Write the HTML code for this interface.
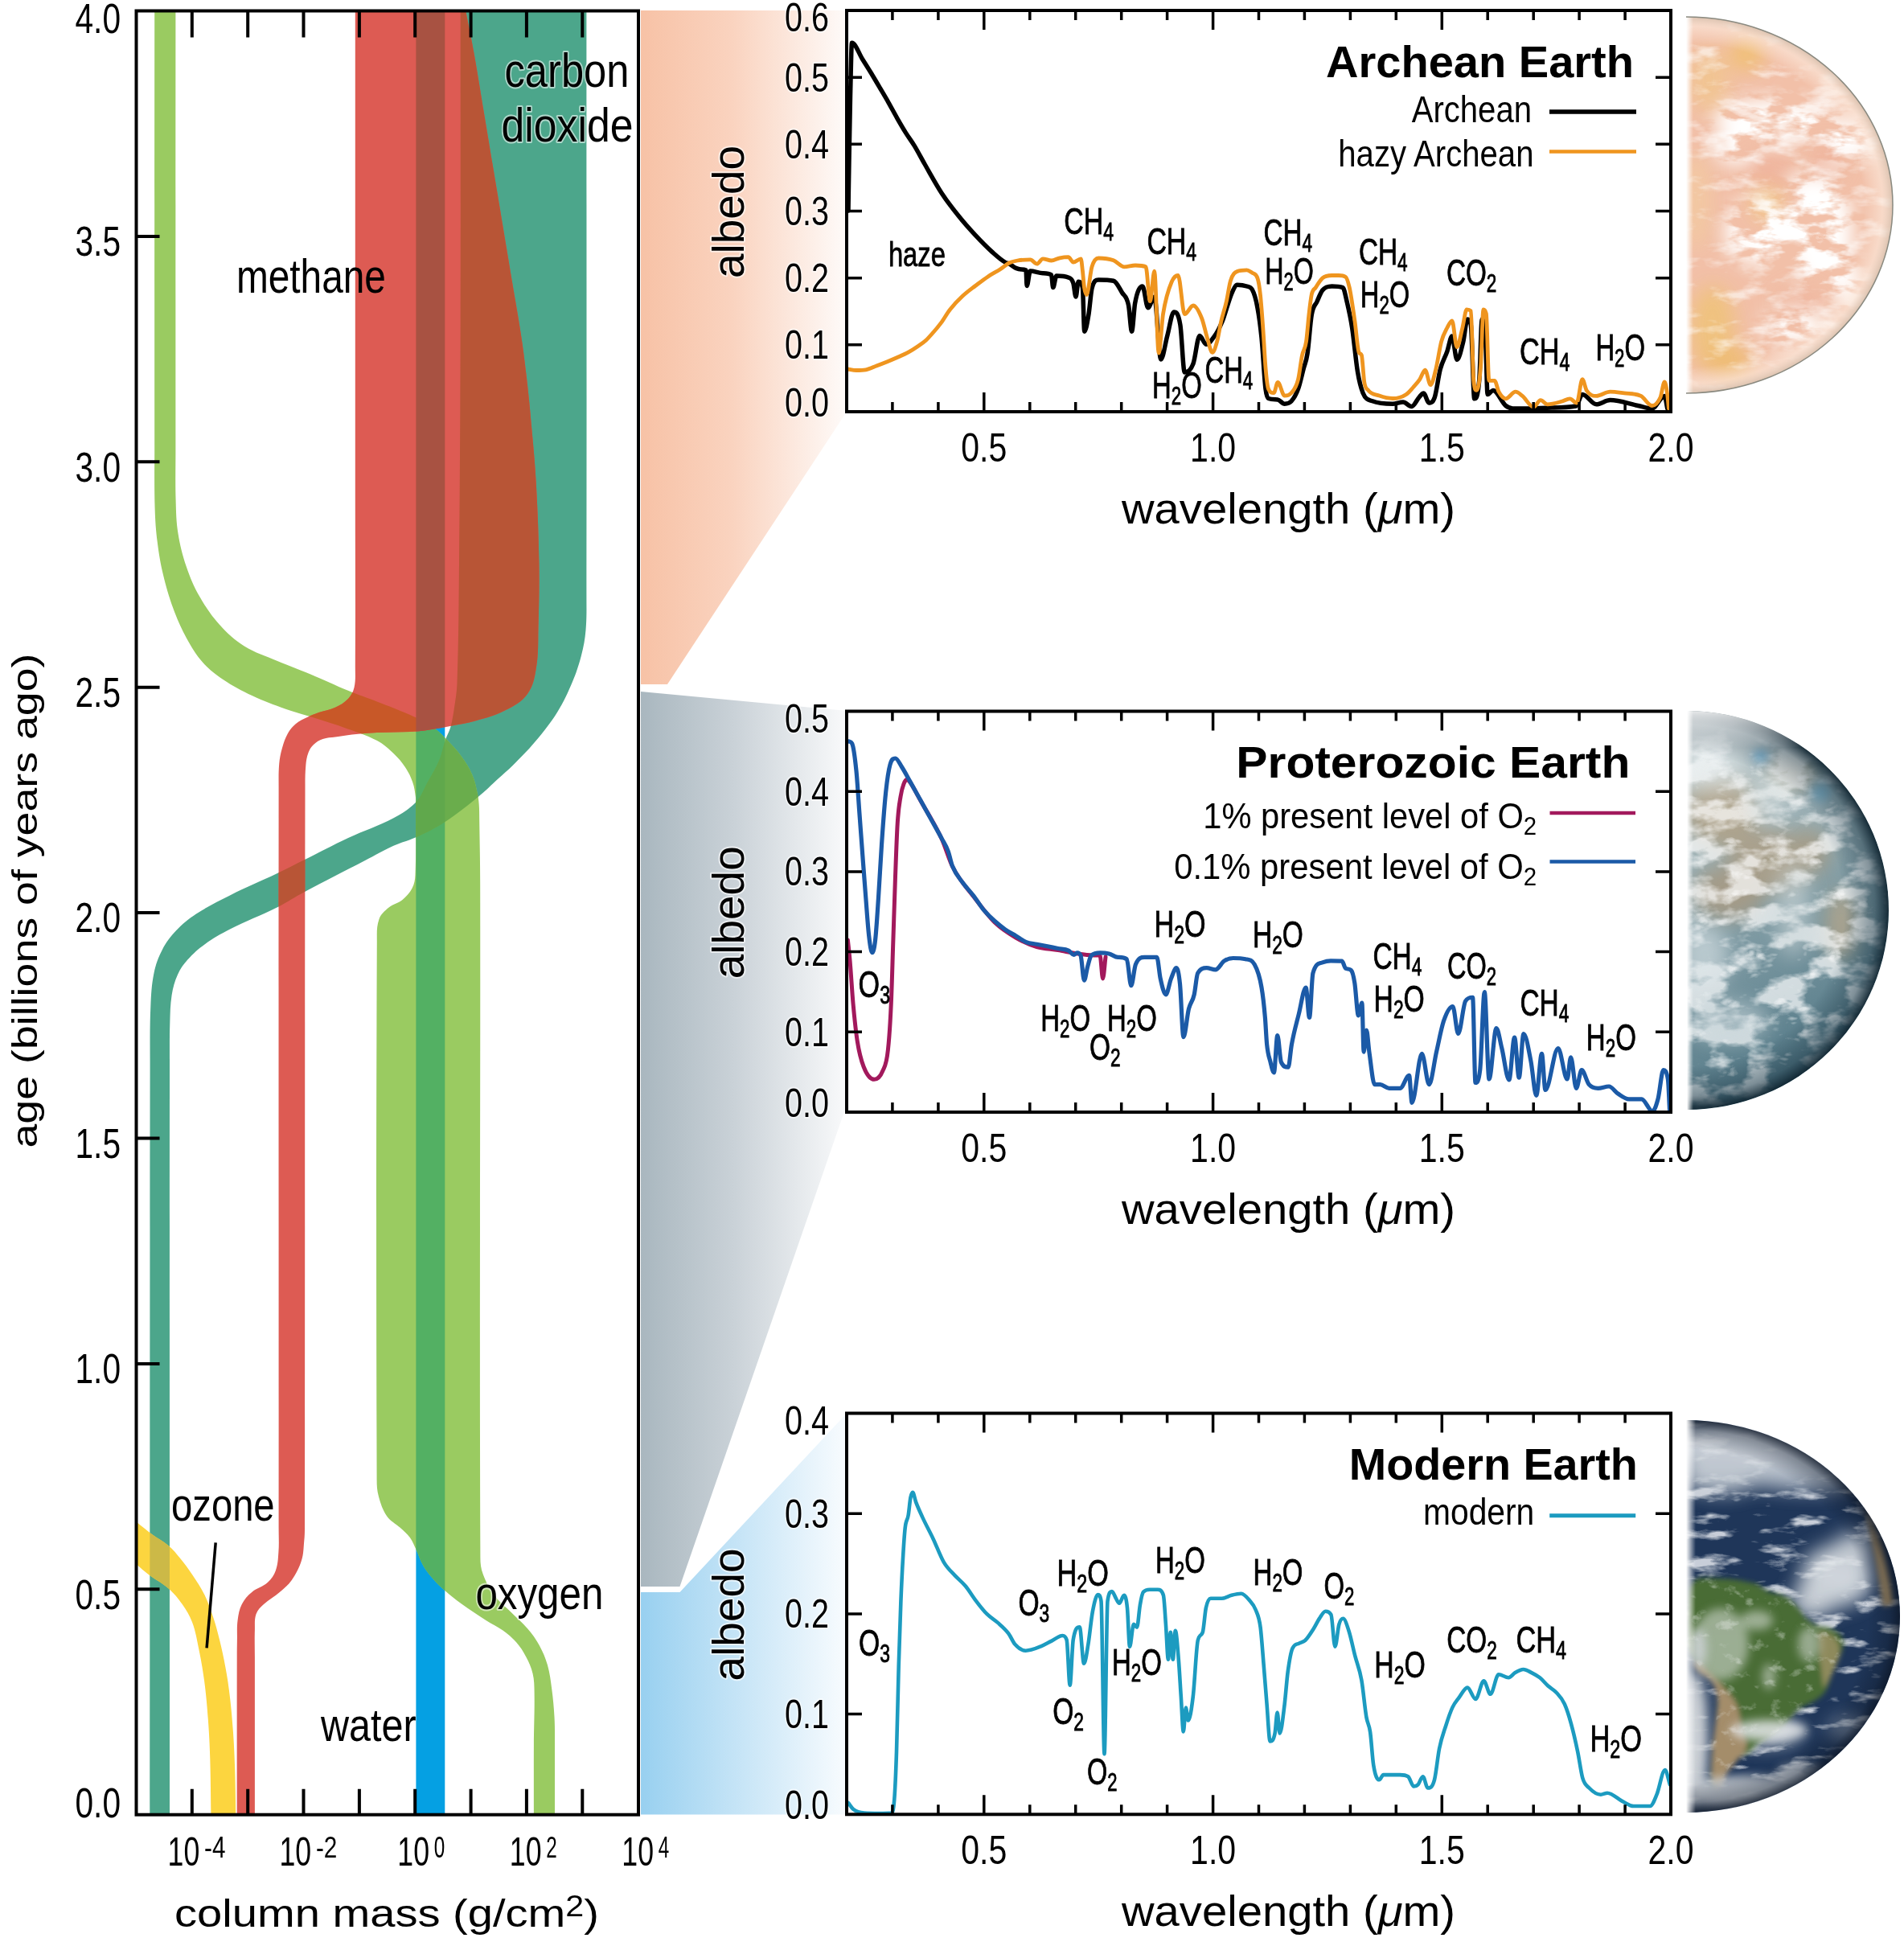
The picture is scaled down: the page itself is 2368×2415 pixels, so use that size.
<!DOCTYPE html><html><head><meta charset='utf-8'><style>html,body{margin:0;padding:0;background:#fff;}svg{display:block;will-change:transform}</style></head><body>
<svg xmlns='http://www.w3.org/2000/svg' width='2368' height='2415' viewBox='0 0 2368 2415'>
<defs>
<linearGradient id='gPeach' x1='797' y1='0' x2='1050' y2='0' gradientUnits='userSpaceOnUse'><stop offset='0' stop-color='#f7c2a6'/><stop offset='0.45' stop-color='#fad3bf'/><stop offset='1' stop-color='#fefaf8'/></linearGradient>
<linearGradient id='gGray' x1='797' y1='0' x2='1050' y2='0' gradientUnits='userSpaceOnUse'><stop offset='0' stop-color='#a9b7bf'/><stop offset='0.45' stop-color='#c9d1d7'/><stop offset='1' stop-color='#f8f9fa'/></linearGradient>
<linearGradient id='gBlue' x1='797' y1='0' x2='1050' y2='0' gradientUnits='userSpaceOnUse'><stop offset='0' stop-color='#98d0f0'/><stop offset='0.45' stop-color='#c3e3f6'/><stop offset='1' stop-color='#f7fbfe'/></linearGradient>
<filter id='blur6' x='-20%' y='-20%' width='140%' height='140%'><feGaussianBlur stdDeviation='6'/></filter>
<filter id='blur12' x='-20%' y='-20%' width='140%' height='140%'><feGaussianBlur stdDeviation='12'/></filter>
<filter id='blur3' x='-20%' y='-20%' width='140%' height='140%'><feGaussianBlur stdDeviation='3'/></filter>
</defs>
<rect x='0' y='0' width='2368' height='2415' fill='#fff'/>
<path d='M797,13 L1053,13 L1053,512 L830,851 L797,851 Z' fill='url(#gPeach)'/>
<path d='M797,860 L1054,884 L1054,1371 L845.5,1973 L797,1973 Z' fill='url(#gGray)'/>
<path d='M797,1980 L845.5,1980 L1053,1757.5 L1053,2256.5 L797,2256.5 Z' fill='url(#gBlue)'/>
<clipPath id='cW'><path d='M517.4,13.5 L553.3,13.5 L553.3,2256.7 L517.4,2256.7 Z'/></clipPath>
<clipPath id='cT'><path d='M572.7,7.5 C629.1,7.5 673,7.5 729.4,7.5 L729.4,7.5 C729.4,271.2 729.7,476.3 729.4,740 C729.4,755.6 729.8,767.8 728.5,783.4 C727.5,794.9 725.9,803.8 723,815 C719.8,827.2 716.7,836.7 711.8,848.3 C706,862.1 701.1,872.7 693.2,885.4 C684.4,899.6 676.1,909.7 665.4,922.5 C656,933.7 647.9,941.7 637.6,952 C631.6,958.1 626.3,962.2 620,968 C610.9,976.3 604.3,983.2 594.7,991 C580.3,1002.7 569.1,1011.9 553.5,1022 C541.3,1029.9 531,1034.9 517.8,1041 C508.1,1045.5 499.7,1047.1 490,1051.5 C476.8,1057.5 467,1063.3 454.1,1070 C426.9,1084.1 405.6,1094.8 378.5,1109.2 C366.2,1115.7 357.3,1122 344.9,1128.2 C324,1138.7 306.8,1144.9 286,1155.5 C274.2,1161.5 265.2,1166.7 254.5,1174.4 C246.2,1180.3 240.3,1185.7 233.5,1193.3 C228.1,1199.3 224.3,1204.6 221,1212 C217.1,1220.7 215.1,1228 213.6,1237.4 C211.6,1250.1 211.7,1260.2 211.3,1273 C210.8,1289.9 211,1303.1 211,1320 C210.9,1659.4 211,1923.3 211,2262.7 L211,2262.7 C202.1,2262.7 195.2,2262.7 186.3,2262.7 L186.3,2262.7 C186.4,1923.3 186.3,1659.4 186.6,1320 C186.6,1295.5 186.2,1276.5 187.3,1252 C188,1236.8 188.4,1224.9 191.5,1210 C193.8,1199 196.8,1190.6 202,1180.7 C206.8,1171.6 211.7,1165 218.8,1157.6 C226.9,1149 234.1,1143.1 244,1136.6 C258.4,1127.1 270.6,1121.1 286,1113.4 C306.9,1102.9 323.8,1096.2 344.9,1086.1 C357.1,1080.3 366.4,1075.3 378.5,1069.3 C398.2,1059.5 413.2,1051.3 433.1,1042 C453.4,1032.5 470.2,1027.5 490,1017 C500.9,1011.2 509.3,1005.9 517.8,997 C524.7,989.8 526.9,981.7 531.7,973 C537.2,963 542.1,955.5 546.5,945 C550.1,936.3 551,928.9 554,920 C556,914.1 558.8,910 560.4,904 C562.7,895.5 563.7,888.7 565,880 C566.6,869.2 568.1,860.9 568.5,850 C570.3,796 570.5,754 571,700 C572,592 572.4,508 572.7,400 C573,258.7 572.7,148.8 572.7,7.5 Z'/></clipPath>
<clipPath id='cG'><path d='M192.2,7.5 C201.6,7.5 209,7.5 218.4,7.5 L218.4,7.5 C218.4,206.4 218.3,361.1 218.4,560 C218.4,582.3 217.9,599.7 218.6,622 C219,637 219.1,648.7 221.5,663.5 C223.9,678.6 226.9,690.2 231.8,704.7 C236.5,718.5 241,729.1 248.2,741.8 C255.9,755.2 262.7,765.3 273,776.8 C282.8,787.7 291.4,795.7 303.8,803.5 C317.6,812.1 330,815.6 345,822 C359.7,828.2 371.5,832.3 386.2,838.5 C403.3,845.7 416.3,852 433.5,859.1 C446.5,864.5 456.9,867.9 470,873 C484.4,878.6 495.8,882.7 510,889 C520,893.5 527.9,897 537,903 C543.8,907.5 548.3,912.2 554,918 C561.4,925.5 567.2,931.5 573.4,940 C579.2,947.9 583.4,954.4 587.3,963.4 C590.8,971.3 591.9,978.1 593.8,986.6 C594.9,991.5 595.3,995.5 595.7,1000.5 C596.2,1007.5 596.1,1013 596.2,1020 C596.6,1048.8 597.2,1071.2 597.2,1100 C597.6,1401.3 596.2,1635.7 597.4,1937 C597.4,1944.5 598.1,1950.5 600.7,1957.5 C604.5,1967.8 608.6,1975.5 615.1,1984.3 C621.3,1992.8 628.3,1997.6 635.7,2005 C643.1,2012.4 649.5,2017.5 656.3,2025.5 C662.2,2032.4 666.4,2038.1 670.7,2046 C675.3,2054.5 678.3,2061.5 681,2070.8 C683.9,2081.1 684.8,2089.4 686.2,2100 C687.9,2112.5 688.8,2122.4 689.5,2135 C690.2,2147.6 690,2157.4 690,2170 C690.1,2203.4 690,2229.3 690,2262.7 L690,2262.7 C680.6,2262.7 673.3,2262.7 663.9,2262.7 L663.9,2262.7 C663.9,2229.3 663.8,2203.4 663.9,2170 C664,2146.6 665,2128.4 664.6,2105 C664.5,2096.3 664.5,2089.4 662.5,2081 C660.7,2073.3 658,2067.5 654.3,2060.5 C650.6,2053.4 647.2,2048 641.9,2042 C636.7,2036.1 631.8,2032.2 625.4,2027.6 C618.4,2022.5 612.1,2019.9 604.8,2015.2 C593.6,2008 584.8,2002.4 574,1994.6 C566.3,1989 560.5,1984.3 553.3,1978 C547.8,1973.2 543.7,1969.2 538.9,1963.7 C534,1958.1 530.2,1953.6 526.5,1947.2 C522.4,1940.2 520.8,1933.9 517.3,1926.6 C514.8,1921.3 513.4,1916.9 510,1912.2 C506.3,1907.1 502.3,1904.1 497.7,1899.8 C491.9,1894.4 485.7,1891.9 481.2,1885.4 C475.8,1877.5 473.5,1870 470.9,1860.7 C468.9,1853.5 468.6,1847.5 468.6,1840 C467.9,1598.8 467.8,1411.2 468.8,1170 C468.8,1160.2 468.2,1152.2 471.5,1143 C473.8,1136.6 478.4,1132.9 483.6,1128.6 C489,1124.1 495.1,1123.5 500.5,1119 C505.7,1114.6 509.5,1110.5 512.6,1104.4 C515.4,1099 516.2,1094.1 516.5,1088 C517.8,1056.3 516.9,1031.7 517,1000 C517,996.8 517.3,994.2 516.9,991 C516,984.3 515.4,979 513.2,972.7 C510.7,965.6 508,960.3 503.9,954 C499.6,947.5 495.6,942.8 490,937.5 C483,930.9 477.5,925.5 469,921 C454.6,913.4 442.3,909.9 427,904.4 C411,898.7 398.2,895.1 382,890 C372.4,887 364.8,885.2 355.3,881.8 C340.3,876.3 328.5,872.2 314,865.3 C300.2,858.8 289.7,853.2 277,844.7 C267.4,838.3 260,832.7 252.4,824 C243.6,814 238.2,804.9 231.8,793.2 C224.8,780.4 220.3,769.9 215.3,756.2 C210,741.7 206.6,730.1 203,715 C199.5,700.3 197.6,688.7 195.7,673.8 C193.8,659 193.1,647.5 192.6,632.6 C191.8,606.5 192.2,586.1 192.2,560 C192.1,361.1 192.2,206.4 192.2,7.5 Z'/></clipPath>
<clipPath id='cLP'><rect x='169.5' y='13.5' width='624.5' height='2243.2'/></clipPath>
<g clip-path='url(#cLP)'>
<path d='M517.4,13.5 L553.3,13.5 L553.3,2256.7 L517.4,2256.7 Z' fill='#05a0e3'/>
<path d='M572.7,7.5 C629.1,7.5 673,7.5 729.4,7.5 L729.4,7.5 C729.4,271.2 729.7,476.3 729.4,740 C729.4,755.6 729.8,767.8 728.5,783.4 C727.5,794.9 725.9,803.8 723,815 C719.8,827.2 716.7,836.7 711.8,848.3 C706,862.1 701.1,872.7 693.2,885.4 C684.4,899.6 676.1,909.7 665.4,922.5 C656,933.7 647.9,941.7 637.6,952 C631.6,958.1 626.3,962.2 620,968 C610.9,976.3 604.3,983.2 594.7,991 C580.3,1002.7 569.1,1011.9 553.5,1022 C541.3,1029.9 531,1034.9 517.8,1041 C508.1,1045.5 499.7,1047.1 490,1051.5 C476.8,1057.5 467,1063.3 454.1,1070 C426.9,1084.1 405.6,1094.8 378.5,1109.2 C366.2,1115.7 357.3,1122 344.9,1128.2 C324,1138.7 306.8,1144.9 286,1155.5 C274.2,1161.5 265.2,1166.7 254.5,1174.4 C246.2,1180.3 240.3,1185.7 233.5,1193.3 C228.1,1199.3 224.3,1204.6 221,1212 C217.1,1220.7 215.1,1228 213.6,1237.4 C211.6,1250.1 211.7,1260.2 211.3,1273 C210.8,1289.9 211,1303.1 211,1320 C210.9,1659.4 211,1923.3 211,2262.7 L211,2262.7 C202.1,2262.7 195.2,2262.7 186.3,2262.7 L186.3,2262.7 C186.4,1923.3 186.3,1659.4 186.6,1320 C186.6,1295.5 186.2,1276.5 187.3,1252 C188,1236.8 188.4,1224.9 191.5,1210 C193.8,1199 196.8,1190.6 202,1180.7 C206.8,1171.6 211.7,1165 218.8,1157.6 C226.9,1149 234.1,1143.1 244,1136.6 C258.4,1127.1 270.6,1121.1 286,1113.4 C306.9,1102.9 323.8,1096.2 344.9,1086.1 C357.1,1080.3 366.4,1075.3 378.5,1069.3 C398.2,1059.5 413.2,1051.3 433.1,1042 C453.4,1032.5 470.2,1027.5 490,1017 C500.9,1011.2 509.3,1005.9 517.8,997 C524.7,989.8 526.9,981.7 531.7,973 C537.2,963 542.1,955.5 546.5,945 C550.1,936.3 551,928.9 554,920 C556,914.1 558.8,910 560.4,904 C562.7,895.5 563.7,888.7 565,880 C566.6,869.2 568.1,860.9 568.5,850 C570.3,796 570.5,754 571,700 C572,592 572.4,508 572.7,400 C573,258.7 572.7,148.8 572.7,7.5 Z' fill='#4ca68b'/>
<path d='M192.2,7.5 C201.6,7.5 209,7.5 218.4,7.5 L218.4,7.5 C218.4,206.4 218.3,361.1 218.4,560 C218.4,582.3 217.9,599.7 218.6,622 C219,637 219.1,648.7 221.5,663.5 C223.9,678.6 226.9,690.2 231.8,704.7 C236.5,718.5 241,729.1 248.2,741.8 C255.9,755.2 262.7,765.3 273,776.8 C282.8,787.7 291.4,795.7 303.8,803.5 C317.6,812.1 330,815.6 345,822 C359.7,828.2 371.5,832.3 386.2,838.5 C403.3,845.7 416.3,852 433.5,859.1 C446.5,864.5 456.9,867.9 470,873 C484.4,878.6 495.8,882.7 510,889 C520,893.5 527.9,897 537,903 C543.8,907.5 548.3,912.2 554,918 C561.4,925.5 567.2,931.5 573.4,940 C579.2,947.9 583.4,954.4 587.3,963.4 C590.8,971.3 591.9,978.1 593.8,986.6 C594.9,991.5 595.3,995.5 595.7,1000.5 C596.2,1007.5 596.1,1013 596.2,1020 C596.6,1048.8 597.2,1071.2 597.2,1100 C597.6,1401.3 596.2,1635.7 597.4,1937 C597.4,1944.5 598.1,1950.5 600.7,1957.5 C604.5,1967.8 608.6,1975.5 615.1,1984.3 C621.3,1992.8 628.3,1997.6 635.7,2005 C643.1,2012.4 649.5,2017.5 656.3,2025.5 C662.2,2032.4 666.4,2038.1 670.7,2046 C675.3,2054.5 678.3,2061.5 681,2070.8 C683.9,2081.1 684.8,2089.4 686.2,2100 C687.9,2112.5 688.8,2122.4 689.5,2135 C690.2,2147.6 690,2157.4 690,2170 C690.1,2203.4 690,2229.3 690,2262.7 L690,2262.7 C680.6,2262.7 673.3,2262.7 663.9,2262.7 L663.9,2262.7 C663.9,2229.3 663.8,2203.4 663.9,2170 C664,2146.6 665,2128.4 664.6,2105 C664.5,2096.3 664.5,2089.4 662.5,2081 C660.7,2073.3 658,2067.5 654.3,2060.5 C650.6,2053.4 647.2,2048 641.9,2042 C636.7,2036.1 631.8,2032.2 625.4,2027.6 C618.4,2022.5 612.1,2019.9 604.8,2015.2 C593.6,2008 584.8,2002.4 574,1994.6 C566.3,1989 560.5,1984.3 553.3,1978 C547.8,1973.2 543.7,1969.2 538.9,1963.7 C534,1958.1 530.2,1953.6 526.5,1947.2 C522.4,1940.2 520.8,1933.9 517.3,1926.6 C514.8,1921.3 513.4,1916.9 510,1912.2 C506.3,1907.1 502.3,1904.1 497.7,1899.8 C491.9,1894.4 485.7,1891.9 481.2,1885.4 C475.8,1877.5 473.5,1870 470.9,1860.7 C468.9,1853.5 468.6,1847.5 468.6,1840 C467.9,1598.8 467.8,1411.2 468.8,1170 C468.8,1160.2 468.2,1152.2 471.5,1143 C473.8,1136.6 478.4,1132.9 483.6,1128.6 C489,1124.1 495.1,1123.5 500.5,1119 C505.7,1114.6 509.5,1110.5 512.6,1104.4 C515.4,1099 516.2,1094.1 516.5,1088 C517.8,1056.3 516.9,1031.7 517,1000 C517,996.8 517.3,994.2 516.9,991 C516,984.3 515.4,979 513.2,972.7 C510.7,965.6 508,960.3 503.9,954 C499.6,947.5 495.6,942.8 490,937.5 C483,930.9 477.5,925.5 469,921 C454.6,913.4 442.3,909.9 427,904.4 C411,898.7 398.2,895.1 382,890 C372.4,887 364.8,885.2 355.3,881.8 C340.3,876.3 328.5,872.2 314,865.3 C300.2,858.8 289.7,853.2 277,844.7 C267.4,838.3 260,832.7 252.4,824 C243.6,814 238.2,804.9 231.8,793.2 C224.8,780.4 220.3,769.9 215.3,756.2 C210,741.7 206.6,730.1 203,715 C199.5,700.3 197.6,688.7 195.7,673.8 C193.8,659 193.1,647.5 192.6,632.6 C191.8,606.5 192.2,586.1 192.2,560 C192.1,361.1 192.2,206.4 192.2,7.5 Z' fill='#9acb61'/>
<g clip-path='url(#cW)'><path d='M192.2,7.5 C201.6,7.5 209,7.5 218.4,7.5 L218.4,7.5 C218.4,206.4 218.3,361.1 218.4,560 C218.4,582.3 217.9,599.7 218.6,622 C219,637 219.1,648.7 221.5,663.5 C223.9,678.6 226.9,690.2 231.8,704.7 C236.5,718.5 241,729.1 248.2,741.8 C255.9,755.2 262.7,765.3 273,776.8 C282.8,787.7 291.4,795.7 303.8,803.5 C317.6,812.1 330,815.6 345,822 C359.7,828.2 371.5,832.3 386.2,838.5 C403.3,845.7 416.3,852 433.5,859.1 C446.5,864.5 456.9,867.9 470,873 C484.4,878.6 495.8,882.7 510,889 C520,893.5 527.9,897 537,903 C543.8,907.5 548.3,912.2 554,918 C561.4,925.5 567.2,931.5 573.4,940 C579.2,947.9 583.4,954.4 587.3,963.4 C590.8,971.3 591.9,978.1 593.8,986.6 C594.9,991.5 595.3,995.5 595.7,1000.5 C596.2,1007.5 596.1,1013 596.2,1020 C596.6,1048.8 597.2,1071.2 597.2,1100 C597.6,1401.3 596.2,1635.7 597.4,1937 C597.4,1944.5 598.1,1950.5 600.7,1957.5 C604.5,1967.8 608.6,1975.5 615.1,1984.3 C621.3,1992.8 628.3,1997.6 635.7,2005 C643.1,2012.4 649.5,2017.5 656.3,2025.5 C662.2,2032.4 666.4,2038.1 670.7,2046 C675.3,2054.5 678.3,2061.5 681,2070.8 C683.9,2081.1 684.8,2089.4 686.2,2100 C687.9,2112.5 688.8,2122.4 689.5,2135 C690.2,2147.6 690,2157.4 690,2170 C690.1,2203.4 690,2229.3 690,2262.7 L690,2262.7 C680.6,2262.7 673.3,2262.7 663.9,2262.7 L663.9,2262.7 C663.9,2229.3 663.8,2203.4 663.9,2170 C664,2146.6 665,2128.4 664.6,2105 C664.5,2096.3 664.5,2089.4 662.5,2081 C660.7,2073.3 658,2067.5 654.3,2060.5 C650.6,2053.4 647.2,2048 641.9,2042 C636.7,2036.1 631.8,2032.2 625.4,2027.6 C618.4,2022.5 612.1,2019.9 604.8,2015.2 C593.6,2008 584.8,2002.4 574,1994.6 C566.3,1989 560.5,1984.3 553.3,1978 C547.8,1973.2 543.7,1969.2 538.9,1963.7 C534,1958.1 530.2,1953.6 526.5,1947.2 C522.4,1940.2 520.8,1933.9 517.3,1926.6 C514.8,1921.3 513.4,1916.9 510,1912.2 C506.3,1907.1 502.3,1904.1 497.7,1899.8 C491.9,1894.4 485.7,1891.9 481.2,1885.4 C475.8,1877.5 473.5,1870 470.9,1860.7 C468.9,1853.5 468.6,1847.5 468.6,1840 C467.9,1598.8 467.8,1411.2 468.8,1170 C468.8,1160.2 468.2,1152.2 471.5,1143 C473.8,1136.6 478.4,1132.9 483.6,1128.6 C489,1124.1 495.1,1123.5 500.5,1119 C505.7,1114.6 509.5,1110.5 512.6,1104.4 C515.4,1099 516.2,1094.1 516.5,1088 C517.8,1056.3 516.9,1031.7 517,1000 C517,996.8 517.3,994.2 516.9,991 C516,984.3 515.4,979 513.2,972.7 C510.7,965.6 508,960.3 503.9,954 C499.6,947.5 495.6,942.8 490,937.5 C483,930.9 477.5,925.5 469,921 C454.6,913.4 442.3,909.9 427,904.4 C411,898.7 398.2,895.1 382,890 C372.4,887 364.8,885.2 355.3,881.8 C340.3,876.3 328.5,872.2 314,865.3 C300.2,858.8 289.7,853.2 277,844.7 C267.4,838.3 260,832.7 252.4,824 C243.6,814 238.2,804.9 231.8,793.2 C224.8,780.4 220.3,769.9 215.3,756.2 C210,741.7 206.6,730.1 203,715 C199.5,700.3 197.6,688.7 195.7,673.8 C193.8,659 193.1,647.5 192.6,632.6 C191.8,606.5 192.2,586.1 192.2,560 C192.1,361.1 192.2,206.4 192.2,7.5 Z' fill='#53b063'/></g>
<g clip-path='url(#cT)'><path d='M192.2,7.5 C201.6,7.5 209,7.5 218.4,7.5 L218.4,7.5 C218.4,206.4 218.3,361.1 218.4,560 C218.4,582.3 217.9,599.7 218.6,622 C219,637 219.1,648.7 221.5,663.5 C223.9,678.6 226.9,690.2 231.8,704.7 C236.5,718.5 241,729.1 248.2,741.8 C255.9,755.2 262.7,765.3 273,776.8 C282.8,787.7 291.4,795.7 303.8,803.5 C317.6,812.1 330,815.6 345,822 C359.7,828.2 371.5,832.3 386.2,838.5 C403.3,845.7 416.3,852 433.5,859.1 C446.5,864.5 456.9,867.9 470,873 C484.4,878.6 495.8,882.7 510,889 C520,893.5 527.9,897 537,903 C543.8,907.5 548.3,912.2 554,918 C561.4,925.5 567.2,931.5 573.4,940 C579.2,947.9 583.4,954.4 587.3,963.4 C590.8,971.3 591.9,978.1 593.8,986.6 C594.9,991.5 595.3,995.5 595.7,1000.5 C596.2,1007.5 596.1,1013 596.2,1020 C596.6,1048.8 597.2,1071.2 597.2,1100 C597.6,1401.3 596.2,1635.7 597.4,1937 C597.4,1944.5 598.1,1950.5 600.7,1957.5 C604.5,1967.8 608.6,1975.5 615.1,1984.3 C621.3,1992.8 628.3,1997.6 635.7,2005 C643.1,2012.4 649.5,2017.5 656.3,2025.5 C662.2,2032.4 666.4,2038.1 670.7,2046 C675.3,2054.5 678.3,2061.5 681,2070.8 C683.9,2081.1 684.8,2089.4 686.2,2100 C687.9,2112.5 688.8,2122.4 689.5,2135 C690.2,2147.6 690,2157.4 690,2170 C690.1,2203.4 690,2229.3 690,2262.7 L690,2262.7 C680.6,2262.7 673.3,2262.7 663.9,2262.7 L663.9,2262.7 C663.9,2229.3 663.8,2203.4 663.9,2170 C664,2146.6 665,2128.4 664.6,2105 C664.5,2096.3 664.5,2089.4 662.5,2081 C660.7,2073.3 658,2067.5 654.3,2060.5 C650.6,2053.4 647.2,2048 641.9,2042 C636.7,2036.1 631.8,2032.2 625.4,2027.6 C618.4,2022.5 612.1,2019.9 604.8,2015.2 C593.6,2008 584.8,2002.4 574,1994.6 C566.3,1989 560.5,1984.3 553.3,1978 C547.8,1973.2 543.7,1969.2 538.9,1963.7 C534,1958.1 530.2,1953.6 526.5,1947.2 C522.4,1940.2 520.8,1933.9 517.3,1926.6 C514.8,1921.3 513.4,1916.9 510,1912.2 C506.3,1907.1 502.3,1904.1 497.7,1899.8 C491.9,1894.4 485.7,1891.9 481.2,1885.4 C475.8,1877.5 473.5,1870 470.9,1860.7 C468.9,1853.5 468.6,1847.5 468.6,1840 C467.9,1598.8 467.8,1411.2 468.8,1170 C468.8,1160.2 468.2,1152.2 471.5,1143 C473.8,1136.6 478.4,1132.9 483.6,1128.6 C489,1124.1 495.1,1123.5 500.5,1119 C505.7,1114.6 509.5,1110.5 512.6,1104.4 C515.4,1099 516.2,1094.1 516.5,1088 C517.8,1056.3 516.9,1031.7 517,1000 C517,996.8 517.3,994.2 516.9,991 C516,984.3 515.4,979 513.2,972.7 C510.7,965.6 508,960.3 503.9,954 C499.6,947.5 495.6,942.8 490,937.5 C483,930.9 477.5,925.5 469,921 C454.6,913.4 442.3,909.9 427,904.4 C411,898.7 398.2,895.1 382,890 C372.4,887 364.8,885.2 355.3,881.8 C340.3,876.3 328.5,872.2 314,865.3 C300.2,858.8 289.7,853.2 277,844.7 C267.4,838.3 260,832.7 252.4,824 C243.6,814 238.2,804.9 231.8,793.2 C224.8,780.4 220.3,769.9 215.3,756.2 C210,741.7 206.6,730.1 203,715 C199.5,700.3 197.6,688.7 195.7,673.8 C193.8,659 193.1,647.5 192.6,632.6 C191.8,606.5 192.2,586.1 192.2,560 C192.1,361.1 192.2,206.4 192.2,7.5 Z' fill='#6aad4c'/></g>
<g clip-path='url(#cT)'><g clip-path='url(#cW)'><path d='M192.2,7.5 C201.6,7.5 209,7.5 218.4,7.5 L218.4,7.5 C218.4,206.4 218.3,361.1 218.4,560 C218.4,582.3 217.9,599.7 218.6,622 C219,637 219.1,648.7 221.5,663.5 C223.9,678.6 226.9,690.2 231.8,704.7 C236.5,718.5 241,729.1 248.2,741.8 C255.9,755.2 262.7,765.3 273,776.8 C282.8,787.7 291.4,795.7 303.8,803.5 C317.6,812.1 330,815.6 345,822 C359.7,828.2 371.5,832.3 386.2,838.5 C403.3,845.7 416.3,852 433.5,859.1 C446.5,864.5 456.9,867.9 470,873 C484.4,878.6 495.8,882.7 510,889 C520,893.5 527.9,897 537,903 C543.8,907.5 548.3,912.2 554,918 C561.4,925.5 567.2,931.5 573.4,940 C579.2,947.9 583.4,954.4 587.3,963.4 C590.8,971.3 591.9,978.1 593.8,986.6 C594.9,991.5 595.3,995.5 595.7,1000.5 C596.2,1007.5 596.1,1013 596.2,1020 C596.6,1048.8 597.2,1071.2 597.2,1100 C597.6,1401.3 596.2,1635.7 597.4,1937 C597.4,1944.5 598.1,1950.5 600.7,1957.5 C604.5,1967.8 608.6,1975.5 615.1,1984.3 C621.3,1992.8 628.3,1997.6 635.7,2005 C643.1,2012.4 649.5,2017.5 656.3,2025.5 C662.2,2032.4 666.4,2038.1 670.7,2046 C675.3,2054.5 678.3,2061.5 681,2070.8 C683.9,2081.1 684.8,2089.4 686.2,2100 C687.9,2112.5 688.8,2122.4 689.5,2135 C690.2,2147.6 690,2157.4 690,2170 C690.1,2203.4 690,2229.3 690,2262.7 L690,2262.7 C680.6,2262.7 673.3,2262.7 663.9,2262.7 L663.9,2262.7 C663.9,2229.3 663.8,2203.4 663.9,2170 C664,2146.6 665,2128.4 664.6,2105 C664.5,2096.3 664.5,2089.4 662.5,2081 C660.7,2073.3 658,2067.5 654.3,2060.5 C650.6,2053.4 647.2,2048 641.9,2042 C636.7,2036.1 631.8,2032.2 625.4,2027.6 C618.4,2022.5 612.1,2019.9 604.8,2015.2 C593.6,2008 584.8,2002.4 574,1994.6 C566.3,1989 560.5,1984.3 553.3,1978 C547.8,1973.2 543.7,1969.2 538.9,1963.7 C534,1958.1 530.2,1953.6 526.5,1947.2 C522.4,1940.2 520.8,1933.9 517.3,1926.6 C514.8,1921.3 513.4,1916.9 510,1912.2 C506.3,1907.1 502.3,1904.1 497.7,1899.8 C491.9,1894.4 485.7,1891.9 481.2,1885.4 C475.8,1877.5 473.5,1870 470.9,1860.7 C468.9,1853.5 468.6,1847.5 468.6,1840 C467.9,1598.8 467.8,1411.2 468.8,1170 C468.8,1160.2 468.2,1152.2 471.5,1143 C473.8,1136.6 478.4,1132.9 483.6,1128.6 C489,1124.1 495.1,1123.5 500.5,1119 C505.7,1114.6 509.5,1110.5 512.6,1104.4 C515.4,1099 516.2,1094.1 516.5,1088 C517.8,1056.3 516.9,1031.7 517,1000 C517,996.8 517.3,994.2 516.9,991 C516,984.3 515.4,979 513.2,972.7 C510.7,965.6 508,960.3 503.9,954 C499.6,947.5 495.6,942.8 490,937.5 C483,930.9 477.5,925.5 469,921 C454.6,913.4 442.3,909.9 427,904.4 C411,898.7 398.2,895.1 382,890 C372.4,887 364.8,885.2 355.3,881.8 C340.3,876.3 328.5,872.2 314,865.3 C300.2,858.8 289.7,853.2 277,844.7 C267.4,838.3 260,832.7 252.4,824 C243.6,814 238.2,804.9 231.8,793.2 C224.8,780.4 220.3,769.9 215.3,756.2 C210,741.7 206.6,730.1 203,715 C199.5,700.3 197.6,688.7 195.7,673.8 C193.8,659 193.1,647.5 192.6,632.6 C191.8,606.5 192.2,586.1 192.2,560 C192.1,361.1 192.2,206.4 192.2,7.5 Z' fill='#60a84c'/></g></g>
<path d='M150,1877 C157,1882.6 162.5,1886.9 169.5,1892.5 C176.8,1898.3 182.2,1903 189.7,1908.5 C196.6,1913.6 202.9,1916.4 209.4,1922 C215.4,1927.1 219.2,1931.9 224.2,1938 C229.9,1944.9 234,1950.6 239,1958 C244.8,1966.6 249.3,1973.3 254,1982.6 C258.3,1991.1 260.7,1998.3 263.8,2007.3 C266.9,2016.1 268.9,2023 271.2,2032 C274.2,2043.4 276.3,2052.4 278.6,2064 C281.2,2077.3 283.1,2087.7 284.8,2101.2 C287.1,2118.9 288.4,2132.8 289.7,2150.6 C291,2168.4 291.6,2182.2 292.2,2200 C292.9,2222.6 293,2240.1 293.4,2262.7 L293.4,2262.7 C282.3,2262.7 273.6,2262.7 262.5,2262.7 L262.5,2262.7 C262.1,2235.7 262.1,2214.7 261.3,2187.7 C260.8,2169.9 260.1,2156.1 258.8,2138.3 C257.5,2120.5 256.3,2106.6 253.9,2088.9 C251.9,2073.7 249.6,2061.9 246.5,2046.9 C244.3,2036.1 242.9,2027.5 239,2017.2 C235.7,2008.7 232,2002.5 226.7,1995 C221.2,1987.3 216.5,1981.5 209.4,1975.2 C201.3,1968 193.3,1964.5 184.7,1958 C179,1953.7 174.9,1949.7 169.5,1945 C162.5,1938.9 157,1934.1 150,1928 L150,1928 C150,1909.6 150,1895.4 150,1877 Z' fill='#fcd53f'/>
<g clip-path='url(#cT)'><path d='M150,1877 C157,1882.6 162.5,1886.9 169.5,1892.5 C176.8,1898.3 182.2,1903 189.7,1908.5 C196.6,1913.6 202.9,1916.4 209.4,1922 C215.4,1927.1 219.2,1931.9 224.2,1938 C229.9,1944.9 234,1950.6 239,1958 C244.8,1966.6 249.3,1973.3 254,1982.6 C258.3,1991.1 260.7,1998.3 263.8,2007.3 C266.9,2016.1 268.9,2023 271.2,2032 C274.2,2043.4 276.3,2052.4 278.6,2064 C281.2,2077.3 283.1,2087.7 284.8,2101.2 C287.1,2118.9 288.4,2132.8 289.7,2150.6 C291,2168.4 291.6,2182.2 292.2,2200 C292.9,2222.6 293,2240.1 293.4,2262.7 L293.4,2262.7 C282.3,2262.7 273.6,2262.7 262.5,2262.7 L262.5,2262.7 C262.1,2235.7 262.1,2214.7 261.3,2187.7 C260.8,2169.9 260.1,2156.1 258.8,2138.3 C257.5,2120.5 256.3,2106.6 253.9,2088.9 C251.9,2073.7 249.6,2061.9 246.5,2046.9 C244.3,2036.1 242.9,2027.5 239,2017.2 C235.7,2008.7 232,2002.5 226.7,1995 C221.2,1987.3 216.5,1981.5 209.4,1975.2 C201.3,1968 193.3,1964.5 184.7,1958 C179,1953.7 174.9,1949.7 169.5,1945 C162.5,1938.9 157,1934.1 150,1928 L150,1928 C150,1909.6 150,1895.4 150,1877 Z' fill='#ccb947'/></g>
<path d='M441.8,7.5 C490.8,7.5 529,7.5 578,7.5 L578,7.5 C582.4,29.8 586.1,47.1 590.1,69.5 C594.6,94.5 597.5,114 601.7,139 C605.9,164.1 609.1,183.5 613.3,208.6 C617.5,233.7 620.7,253.1 624.9,278.2 C629.1,303.2 632.3,322.7 636.5,347.7 C640.7,372.7 644.3,392.1 648.1,417.2 C651,436.2 652.8,451 655,470 C657.5,491.6 659.1,508.4 661,530 C663.3,555.2 665.3,574.8 666.7,600 C668.7,636 669.8,664 670.4,700 C670.8,728.8 670.3,751.2 669.5,780 C669,797.9 669.9,812.1 667,829.8 C665,842.2 663.4,852.8 656,863 C648.7,873.1 639.1,877.9 628,883.6 C615.5,890.1 604.6,892.7 591,896.6 C580.4,899.6 571.8,900.6 561,902.7 C554,904.1 548.6,905.2 541.6,906.3 C532.9,907.7 526.2,908.9 517.4,909.5 C500,910.6 486.4,910.1 469,911 C457.7,911.6 448.9,912.3 437.7,913.5 C430.2,914.3 424.4,915.4 417,916.5 C411.4,917.3 406.8,917.1 401.5,919 C396.9,920.6 393.5,922.7 390,926 C386.9,928.9 385,932 383.5,936 C381.4,941.5 380.8,946.2 380.3,952 C379.4,962 379.5,969.9 379.5,980 C379,1311.2 379.4,1568.8 379,1900 C379,1905.8 378.9,1910.3 378.3,1916 C377.4,1924.9 377.7,1932.1 375,1940.6 C372,1950.1 368.3,1957.1 362.6,1965.3 C358.3,1971.5 353.5,1975.1 347.8,1980 C341,1985.8 334.5,1988.9 328,1995 C323.9,1998.8 320.3,2002 318.5,2007.3 C316.2,2014 317.1,2019.9 316.9,2027 C316.5,2038.9 316.9,2048.1 316.9,2060 C316.9,2133 316.9,2189.7 316.9,2262.7 L316.9,2262.7 C308.9,2262.7 302.7,2262.7 294.7,2262.7 L294.7,2262.7 C294.7,2189.7 294.6,2133 294.7,2060 C294.7,2052.6 294.8,2046.9 294.9,2039.5 C295.1,2030.6 294.4,2023.6 295.6,2014.7 C296.6,2007.4 297.5,2001.5 300.8,1995 C304,1988.8 307.8,1984.5 313.2,1980 C319.6,1974.6 326.8,1973.4 333,1967.8 C337.7,1963.5 340.8,1959 342.9,1953 C345.7,1945.1 345.8,1938.4 346.4,1930 C347.2,1919.2 346.6,1910.8 346.6,1900 C346.7,1568.8 346.4,1311.2 346.6,980 C346.6,969.2 346.3,960.8 347.2,950 C347.8,942.7 349,937 351,930 C352.9,923.3 354.6,918 358,912 C360.8,907.1 363.7,903.6 368,900 C372.5,896.3 376.8,894.6 382,892 C387.1,889.5 391.2,887.9 396.5,886 C403.8,883.4 410,883 417,879.7 C423.3,876.8 428.2,874 433,869 C436.9,864.9 439.2,860.6 440.5,855 C442.5,846.2 441.8,839 441.8,830 C442.2,747.2 441.8,682.8 441.8,600 C441.8,386.7 441.8,220.8 441.8,7.5 Z' fill='#dd5b53'/>
<g clip-path='url(#cG)'><path d='M441.8,7.5 C490.8,7.5 529,7.5 578,7.5 L578,7.5 C582.4,29.8 586.1,47.1 590.1,69.5 C594.6,94.5 597.5,114 601.7,139 C605.9,164.1 609.1,183.5 613.3,208.6 C617.5,233.7 620.7,253.1 624.9,278.2 C629.1,303.2 632.3,322.7 636.5,347.7 C640.7,372.7 644.3,392.1 648.1,417.2 C651,436.2 652.8,451 655,470 C657.5,491.6 659.1,508.4 661,530 C663.3,555.2 665.3,574.8 666.7,600 C668.7,636 669.8,664 670.4,700 C670.8,728.8 670.3,751.2 669.5,780 C669,797.9 669.9,812.1 667,829.8 C665,842.2 663.4,852.8 656,863 C648.7,873.1 639.1,877.9 628,883.6 C615.5,890.1 604.6,892.7 591,896.6 C580.4,899.6 571.8,900.6 561,902.7 C554,904.1 548.6,905.2 541.6,906.3 C532.9,907.7 526.2,908.9 517.4,909.5 C500,910.6 486.4,910.1 469,911 C457.7,911.6 448.9,912.3 437.7,913.5 C430.2,914.3 424.4,915.4 417,916.5 C411.4,917.3 406.8,917.1 401.5,919 C396.9,920.6 393.5,922.7 390,926 C386.9,928.9 385,932 383.5,936 C381.4,941.5 380.8,946.2 380.3,952 C379.4,962 379.5,969.9 379.5,980 C379,1311.2 379.4,1568.8 379,1900 C379,1905.8 378.9,1910.3 378.3,1916 C377.4,1924.9 377.7,1932.1 375,1940.6 C372,1950.1 368.3,1957.1 362.6,1965.3 C358.3,1971.5 353.5,1975.1 347.8,1980 C341,1985.8 334.5,1988.9 328,1995 C323.9,1998.8 320.3,2002 318.5,2007.3 C316.2,2014 317.1,2019.9 316.9,2027 C316.5,2038.9 316.9,2048.1 316.9,2060 C316.9,2133 316.9,2189.7 316.9,2262.7 L316.9,2262.7 C308.9,2262.7 302.7,2262.7 294.7,2262.7 L294.7,2262.7 C294.7,2189.7 294.6,2133 294.7,2060 C294.7,2052.6 294.8,2046.9 294.9,2039.5 C295.1,2030.6 294.4,2023.6 295.6,2014.7 C296.6,2007.4 297.5,2001.5 300.8,1995 C304,1988.8 307.8,1984.5 313.2,1980 C319.6,1974.6 326.8,1973.4 333,1967.8 C337.7,1963.5 340.8,1959 342.9,1953 C345.7,1945.1 345.8,1938.4 346.4,1930 C347.2,1919.2 346.6,1910.8 346.6,1900 C346.7,1568.8 346.4,1311.2 346.6,980 C346.6,969.2 346.3,960.8 347.2,950 C347.8,942.7 349,937 351,930 C352.9,923.3 354.6,918 358,912 C360.8,907.1 363.7,903.6 368,900 C372.5,896.3 376.8,894.6 382,892 C387.1,889.5 391.2,887.9 396.5,886 C403.8,883.4 410,883 417,879.7 C423.3,876.8 428.2,874 433,869 C436.9,864.9 439.2,860.6 440.5,855 C442.5,846.2 441.8,839 441.8,830 C442.2,747.2 441.8,682.8 441.8,600 C441.8,386.7 441.8,220.8 441.8,7.5 Z' fill='#c85828'/></g>
<g clip-path='url(#cT)'><path d='M441.8,7.5 C490.8,7.5 529,7.5 578,7.5 L578,7.5 C582.4,29.8 586.1,47.1 590.1,69.5 C594.6,94.5 597.5,114 601.7,139 C605.9,164.1 609.1,183.5 613.3,208.6 C617.5,233.7 620.7,253.1 624.9,278.2 C629.1,303.2 632.3,322.7 636.5,347.7 C640.7,372.7 644.3,392.1 648.1,417.2 C651,436.2 652.8,451 655,470 C657.5,491.6 659.1,508.4 661,530 C663.3,555.2 665.3,574.8 666.7,600 C668.7,636 669.8,664 670.4,700 C670.8,728.8 670.3,751.2 669.5,780 C669,797.9 669.9,812.1 667,829.8 C665,842.2 663.4,852.8 656,863 C648.7,873.1 639.1,877.9 628,883.6 C615.5,890.1 604.6,892.7 591,896.6 C580.4,899.6 571.8,900.6 561,902.7 C554,904.1 548.6,905.2 541.6,906.3 C532.9,907.7 526.2,908.9 517.4,909.5 C500,910.6 486.4,910.1 469,911 C457.7,911.6 448.9,912.3 437.7,913.5 C430.2,914.3 424.4,915.4 417,916.5 C411.4,917.3 406.8,917.1 401.5,919 C396.9,920.6 393.5,922.7 390,926 C386.9,928.9 385,932 383.5,936 C381.4,941.5 380.8,946.2 380.3,952 C379.4,962 379.5,969.9 379.5,980 C379,1311.2 379.4,1568.8 379,1900 C379,1905.8 378.9,1910.3 378.3,1916 C377.4,1924.9 377.7,1932.1 375,1940.6 C372,1950.1 368.3,1957.1 362.6,1965.3 C358.3,1971.5 353.5,1975.1 347.8,1980 C341,1985.8 334.5,1988.9 328,1995 C323.9,1998.8 320.3,2002 318.5,2007.3 C316.2,2014 317.1,2019.9 316.9,2027 C316.5,2038.9 316.9,2048.1 316.9,2060 C316.9,2133 316.9,2189.7 316.9,2262.7 L316.9,2262.7 C308.9,2262.7 302.7,2262.7 294.7,2262.7 L294.7,2262.7 C294.7,2189.7 294.6,2133 294.7,2060 C294.7,2052.6 294.8,2046.9 294.9,2039.5 C295.1,2030.6 294.4,2023.6 295.6,2014.7 C296.6,2007.4 297.5,2001.5 300.8,1995 C304,1988.8 307.8,1984.5 313.2,1980 C319.6,1974.6 326.8,1973.4 333,1967.8 C337.7,1963.5 340.8,1959 342.9,1953 C345.7,1945.1 345.8,1938.4 346.4,1930 C347.2,1919.2 346.6,1910.8 346.6,1900 C346.7,1568.8 346.4,1311.2 346.6,980 C346.6,969.2 346.3,960.8 347.2,950 C347.8,942.7 349,937 351,930 C352.9,923.3 354.6,918 358,912 C360.8,907.1 363.7,903.6 368,900 C372.5,896.3 376.8,894.6 382,892 C387.1,889.5 391.2,887.9 396.5,886 C403.8,883.4 410,883 417,879.7 C423.3,876.8 428.2,874 433,869 C436.9,864.9 439.2,860.6 440.5,855 C442.5,846.2 441.8,839 441.8,830 C442.2,747.2 441.8,682.8 441.8,600 C441.8,386.7 441.8,220.8 441.8,7.5 Z' fill='#b85536'/></g>
<g clip-path='url(#cW)'><path d='M441.8,7.5 C490.8,7.5 529,7.5 578,7.5 L578,7.5 C582.4,29.8 586.1,47.1 590.1,69.5 C594.6,94.5 597.5,114 601.7,139 C605.9,164.1 609.1,183.5 613.3,208.6 C617.5,233.7 620.7,253.1 624.9,278.2 C629.1,303.2 632.3,322.7 636.5,347.7 C640.7,372.7 644.3,392.1 648.1,417.2 C651,436.2 652.8,451 655,470 C657.5,491.6 659.1,508.4 661,530 C663.3,555.2 665.3,574.8 666.7,600 C668.7,636 669.8,664 670.4,700 C670.8,728.8 670.3,751.2 669.5,780 C669,797.9 669.9,812.1 667,829.8 C665,842.2 663.4,852.8 656,863 C648.7,873.1 639.1,877.9 628,883.6 C615.5,890.1 604.6,892.7 591,896.6 C580.4,899.6 571.8,900.6 561,902.7 C554,904.1 548.6,905.2 541.6,906.3 C532.9,907.7 526.2,908.9 517.4,909.5 C500,910.6 486.4,910.1 469,911 C457.7,911.6 448.9,912.3 437.7,913.5 C430.2,914.3 424.4,915.4 417,916.5 C411.4,917.3 406.8,917.1 401.5,919 C396.9,920.6 393.5,922.7 390,926 C386.9,928.9 385,932 383.5,936 C381.4,941.5 380.8,946.2 380.3,952 C379.4,962 379.5,969.9 379.5,980 C379,1311.2 379.4,1568.8 379,1900 C379,1905.8 378.9,1910.3 378.3,1916 C377.4,1924.9 377.7,1932.1 375,1940.6 C372,1950.1 368.3,1957.1 362.6,1965.3 C358.3,1971.5 353.5,1975.1 347.8,1980 C341,1985.8 334.5,1988.9 328,1995 C323.9,1998.8 320.3,2002 318.5,2007.3 C316.2,2014 317.1,2019.9 316.9,2027 C316.5,2038.9 316.9,2048.1 316.9,2060 C316.9,2133 316.9,2189.7 316.9,2262.7 L316.9,2262.7 C308.9,2262.7 302.7,2262.7 294.7,2262.7 L294.7,2262.7 C294.7,2189.7 294.6,2133 294.7,2060 C294.7,2052.6 294.8,2046.9 294.9,2039.5 C295.1,2030.6 294.4,2023.6 295.6,2014.7 C296.6,2007.4 297.5,2001.5 300.8,1995 C304,1988.8 307.8,1984.5 313.2,1980 C319.6,1974.6 326.8,1973.4 333,1967.8 C337.7,1963.5 340.8,1959 342.9,1953 C345.7,1945.1 345.8,1938.4 346.4,1930 C347.2,1919.2 346.6,1910.8 346.6,1900 C346.7,1568.8 346.4,1311.2 346.6,980 C346.6,969.2 346.3,960.8 347.2,950 C347.8,942.7 349,937 351,930 C352.9,923.3 354.6,918 358,912 C360.8,907.1 363.7,903.6 368,900 C372.5,896.3 376.8,894.6 382,892 C387.1,889.5 391.2,887.9 396.5,886 C403.8,883.4 410,883 417,879.7 C423.3,876.8 428.2,874 433,869 C436.9,864.9 439.2,860.6 440.5,855 C442.5,846.2 441.8,839 441.8,830 C442.2,747.2 441.8,682.8 441.8,600 C441.8,386.7 441.8,220.8 441.8,7.5 Z' fill='#a85242'/></g>
</g>
<line x1='268.2' y1='1918.4' x2='257.1' y2='2049.3' stroke='#000' stroke-width='3.5'/>
<rect x='169.5' y='13.5' width='624.5' height='2243.2' fill='none' stroke='#000' stroke-width='4'/>
<path d='M238.8,2256.7 V2224.7 M238.8,13.5 V46.5 M308.2,2256.7 V2224.7 M308.2,13.5 V46.5 M377.5,2256.7 V2224.7 M377.5,13.5 V46.5 M446.9,2256.7 V2224.7 M446.9,13.5 V46.5 M516.2,2256.7 V2224.7 M516.2,13.5 V46.5 M585.6,2256.7 V2224.7 M585.6,13.5 V46.5 M654.9,2256.7 V2224.7 M654.9,13.5 V46.5 M724.3,2256.7 V2224.7 M724.3,13.5 V46.5 M169.5,1976.3 H198.5 M169.5,1695.9 H198.5 M169.5,1415.5 H198.5 M169.5,1135.1 H198.5 M169.5,854.7 H198.5 M169.5,574.3 H198.5 M169.5,293.9 H198.5' stroke='#000' stroke-width='4' fill='none'/>
<text x='150' y='2259.7' font-size='51' font-family='Liberation Sans' text-anchor='end' textLength='56.5' lengthAdjust='spacingAndGlyphs' >0.0</text>
<text x='150' y='2000.5' font-size='51' font-family='Liberation Sans' text-anchor='end' textLength='56.5' lengthAdjust='spacingAndGlyphs' >0.5</text>
<text x='150' y='1720.1' font-size='51' font-family='Liberation Sans' text-anchor='end' textLength='56.5' lengthAdjust='spacingAndGlyphs' >1.0</text>
<text x='150' y='1439.7' font-size='51' font-family='Liberation Sans' text-anchor='end' textLength='56.5' lengthAdjust='spacingAndGlyphs' >1.5</text>
<text x='150' y='1159.3' font-size='51' font-family='Liberation Sans' text-anchor='end' textLength='56.5' lengthAdjust='spacingAndGlyphs' >2.0</text>
<text x='150' y='878.9' font-size='51' font-family='Liberation Sans' text-anchor='end' textLength='56.5' lengthAdjust='spacingAndGlyphs' >2.5</text>
<text x='150' y='598.5' font-size='51' font-family='Liberation Sans' text-anchor='end' textLength='56.5' lengthAdjust='spacingAndGlyphs' >3.0</text>
<text x='150' y='318.1' font-size='51' font-family='Liberation Sans' text-anchor='end' textLength='56.5' lengthAdjust='spacingAndGlyphs' >3.5</text>
<text x='150' y='41' font-size='51' font-family='Liberation Sans' text-anchor='end' textLength='56.5' lengthAdjust='spacingAndGlyphs' >4.0</text>
<text x='208.6' y='2319.8' font-size='50' font-family='Liberation Sans' textLength='39.7' lengthAdjust='spacingAndGlyphs' >10</text>
<text x='254' y='2309.7' font-size='37' font-family='Liberation Sans' textLength='26.4' lengthAdjust='spacingAndGlyphs' >-4</text>
<text x='347.5' y='2319.8' font-size='50' font-family='Liberation Sans' textLength='39.7' lengthAdjust='spacingAndGlyphs' >10</text>
<text x='392.9' y='2309.7' font-size='37' font-family='Liberation Sans' textLength='26.4' lengthAdjust='spacingAndGlyphs' >-2</text>
<text x='494.3' y='2319.8' font-size='50' font-family='Liberation Sans' textLength='39.7' lengthAdjust='spacingAndGlyphs' >10</text>
<text x='539.7' y='2309.7' font-size='37' font-family='Liberation Sans' textLength='13.5' lengthAdjust='spacingAndGlyphs' >0</text>
<text x='633.8' y='2319.8' font-size='50' font-family='Liberation Sans' textLength='39.7' lengthAdjust='spacingAndGlyphs' >10</text>
<text x='679.2' y='2309.7' font-size='37' font-family='Liberation Sans' textLength='13.5' lengthAdjust='spacingAndGlyphs' >2</text>
<text x='773.3' y='2319.8' font-size='50' font-family='Liberation Sans' textLength='39.7' lengthAdjust='spacingAndGlyphs' >10</text>
<text x='818.7' y='2309.7' font-size='37' font-family='Liberation Sans' textLength='13.5' lengthAdjust='spacingAndGlyphs' >4</text>
<text x='217' y='2396' font-size='49' font-family='Liberation Sans' textLength='528' lengthAdjust='spacingAndGlyphs' >column mass (g/cm<tspan font-size='36' dy='-13'>2</tspan><tspan dy='13'>)</tspan></text>
<text transform='translate(46.3,1120) rotate(-90)' x='0' y='0' font-size='45' font-family='Liberation Sans' text-anchor='middle' textLength='615' lengthAdjust='spacingAndGlyphs'>age (billions of years ago)</text>
<text x='293.9' y='364.1' font-size='60' font-family='Liberation Sans' textLength='186' lengthAdjust='spacingAndGlyphs' >methane</text>
<text x='627.5' y='107.5' font-size='60' font-family='Liberation Sans' textLength='155' lengthAdjust='spacingAndGlyphs' stroke='#fff' stroke-opacity='0.55' stroke-width='4' stroke-linejoin='round' paint-order='stroke' >carbon</text>
<text x='623.5' y='176' font-size='60' font-family='Liberation Sans' textLength='164' lengthAdjust='spacingAndGlyphs' stroke='#fff' stroke-opacity='0.55' stroke-width='4' stroke-linejoin='round' paint-order='stroke' >dioxide</text>
<text x='213.1' y='1891.2' font-size='58' font-family='Liberation Sans' textLength='128.5' lengthAdjust='spacingAndGlyphs' >ozone</text>
<text x='591.4' y='2000.8' font-size='58' font-family='Liberation Sans' textLength='159' lengthAdjust='spacingAndGlyphs' stroke='#fff' stroke-opacity='0.55' stroke-width='4' stroke-linejoin='round' paint-order='stroke' >oxygen</text>
<text x='398.9' y='2165.2' font-size='58' font-family='Liberation Sans' textLength='118.7' lengthAdjust='spacingAndGlyphs' >water</text>
<rect x='1053.0' y='13.0' width='1025.0' height='499.0' fill='#fff' stroke='none'/>
<rect x='1053.0' y='884.5' width='1025.0' height='498.5' fill='#fff' stroke='none'/>
<rect x='1053.0' y='1757.5' width='1025.0' height='498.8000000000002' fill='#fff' stroke='none'/>
<path d='M1055,262 C1055.3,241.3 1055.7,219.2 1056,200 C1056.5,171.2 1057,141.7 1057.5,120 C1058.2,91.1 1058.8,53.2 1059.5,53.2 C1063.8,53.2 1068.1,66.4 1072.4,73.2 C1076,78.9 1079.6,84.6 1083.2,90.5 C1086.8,96.5 1090.5,102.7 1094.1,108.9 C1097.7,115 1101.3,121 1104.9,127.3 C1108.5,133.6 1112.1,140.5 1115.7,146.8 C1119.3,153.1 1122.9,159.3 1126.5,165.1 C1130.1,170.9 1133.7,175.5 1137.3,181.4 C1141.5,188.4 1145.8,196.6 1150,204 C1157,216.2 1164,229.2 1171,239.9 C1178,250.6 1185,259.6 1192,268.3 C1199,277.1 1206,284.9 1213,292.4 C1220,299.9 1227,307.1 1234,313.4 C1239.3,318.1 1244.5,322.9 1249.8,326 C1251.5,327 1253.3,327.1 1255,328 C1257.8,329.4 1260.6,332.2 1263.4,333.4 C1265.6,334.4 1267.8,335 1270,335 C1272,335 1274,335 1276,336 C1276.4,336.2 1276.7,355.5 1277.1,355.5 C1278.5,355.5 1279.9,337 1281.3,337 C1286.5,337 1291.8,339.6 1297,339.7 C1300.5,339.8 1304.1,339.7 1307.6,341.8 C1308.3,342.2 1309,357.6 1309.7,357.6 C1311.1,357.6 1312.5,343 1313.9,343 C1318.8,343 1323.7,343 1328.6,345 C1330.7,345.9 1332.8,345.4 1334.9,352.3 C1335.9,355.7 1337,369.1 1338,369.1 C1339.1,369.1 1340.1,350.2 1341.2,350.2 C1342.9,350.2 1344.7,350.2 1346.4,357.6 C1347.2,360.9 1347.9,412.2 1348.7,412.2 C1350.5,412.2 1352.2,401.4 1354,390.7 C1355.3,382.6 1356.7,363.9 1358,358.6 C1360.7,347.9 1363.4,347.9 1366.1,347.9 C1372.4,347.9 1378.6,347.9 1384.9,349.2 C1388.5,349.9 1392,358 1395.6,364 C1398.3,368.5 1400.9,366.6 1403.6,380 C1404.9,386.7 1406.3,412.2 1407.6,412.2 C1408.9,412.2 1410.3,384.6 1411.6,377.3 C1414.7,360.1 1417.9,355.9 1421,355.9 C1423.2,355.9 1425.5,382.7 1427.7,382.7 C1430.4,382.7 1433,369.3 1435.7,369.3 C1438.4,369.3 1441.1,447 1443.8,447 C1446.5,447 1449.1,427.3 1451.8,417.5 C1454.5,407.6 1457.2,388 1459.9,388 C1462.6,388 1465.2,388 1467.9,404.1 C1469.7,415 1471.5,463 1473.3,463 C1476.9,463 1480.4,461.8 1484,452.3 C1486.7,445.2 1489.3,417.5 1492,417.5 C1494.7,417.5 1497.3,428.2 1500,428.2 C1503.6,428.2 1507.2,422.7 1510.8,417.5 C1513.9,413.1 1516.9,407.4 1520,400 C1524.1,390.1 1528.1,373 1532.2,364 C1534.4,359.1 1536.6,354.3 1538.8,354.3 C1542.7,354.3 1546.7,354.7 1550.6,356 C1552.8,356.7 1555.1,356.1 1557.3,360 C1559.5,363.9 1561.8,370.8 1564,382.9 C1565.7,391.9 1567.3,403.2 1569,420 C1570.7,436.8 1572.3,470.3 1574,483.7 C1575.2,493.1 1576.3,495.1 1577.5,495.5 C1581.3,497 1585.2,496.7 1589,497 C1591.9,497.2 1594.7,502.2 1597.6,502.2 C1600.4,502.2 1603.2,502.1 1606,499 C1608.8,495.9 1611.7,491.6 1614.5,483.7 C1616.7,477.5 1619,467 1621.2,458.5 C1622.8,452.4 1624.4,450.4 1626,440 C1627.8,428.5 1629.5,401.6 1631.3,391.3 C1633.5,378.3 1635.8,380.1 1638,375 C1640.2,369.9 1642.5,363.8 1644.7,361 C1648.6,356.1 1652.6,356 1656.5,356 C1661,356 1665.5,356 1670,357.6 C1671.7,358.2 1673.3,367.5 1675,374.5 C1677.2,383.9 1679.5,393.4 1681.7,408 C1683.9,422.6 1686.2,448.3 1688.4,461.8 C1690.6,475.2 1692.9,483.3 1695.1,488.7 C1699,498.3 1703,497.2 1706.9,498.8 C1715.3,502.2 1723.7,502.2 1732.1,502.2 C1736.4,502.2 1740.7,500 1745,500 C1748.5,500 1752.1,505.5 1755.6,505.5 C1758.7,505.5 1761.9,497.4 1765,494 C1766.8,492 1768.6,488.9 1770.4,488.9 C1772.7,488.9 1775,501 1777.3,501 C1779.6,501 1782,501 1784.3,494.1 C1786.6,487.3 1788.9,468.2 1791.2,459.4 C1794.1,448.4 1797,445.2 1799.9,436.9 C1801.9,431.1 1803.9,417.9 1805.9,417.9 C1807.9,417.9 1810,447.3 1812,447.3 C1814.6,447.3 1817.2,435.5 1819.8,424.8 C1821.5,417.7 1823.3,397 1825,397 C1826.4,397 1827.9,397 1829.3,404 C1830.8,411.2 1832.2,495.8 1833.7,495.8 C1835.7,495.8 1837.7,495.8 1839.7,473.3 C1840.9,460.2 1842,397 1843.2,397 C1844.6,397 1846.1,398.1 1847.5,421.3 C1848.4,435.3 1849.2,490.6 1850.1,490.6 C1852.4,490.6 1854.7,485.4 1857,485.4 C1862.2,485.4 1867.5,500.3 1872.7,504.5 C1875.6,506.8 1878.4,508 1881.3,508 C1887.5,508 1893.8,508 1900,508 C1910,508 1920,507.1 1930,507 C1940,506.9 1950,507 1960,505 C1962.7,504.5 1965.3,490.6 1968,490.6 C1973.8,490.6 1979.5,502.8 1985.3,502.8 C1991.1,502.8 1996.8,497.6 2002.6,497.6 C2014.2,497.6 2025.7,502.2 2037.3,504.5 C2043.1,505.7 2048.8,508 2054.6,508 C2059.8,508 2065,492.4 2070.2,492.4 C2071.4,492.4 2072.5,502.8 2073.7,508' fill='none' stroke='#000' stroke-width='5.5' stroke-linejoin='round' stroke-linecap='round'/>
<path d='M1054,459 C1057.7,459.5 1061.3,460.5 1065,460.5 C1068.9,460.5 1072.9,460.5 1076.8,459.8 C1081.2,459 1085.6,456.7 1090,455 C1094.5,453.3 1099.1,451.5 1103.6,449.7 C1108.1,447.9 1112.5,446 1117,444 C1121.5,442 1125.9,440.1 1130.4,437.6 C1133.9,435.7 1137.5,433.4 1141,431 C1144.6,428.5 1148.2,426.2 1151.8,422.9 C1154.9,420.1 1157.9,416.5 1161,413 C1164.2,409.4 1167.3,405.7 1170.5,401.4 C1174.2,396.4 1177.8,389.7 1181.5,385 C1186.8,378.3 1192,373 1197.3,368.1 C1202.5,363.2 1207.8,359.5 1213,355.5 C1218.3,351.5 1223.5,347.4 1228.8,343.9 C1234,340.4 1239.3,337.9 1244.5,334.5 C1248,332.2 1251.5,328.8 1255,327 C1258.5,325.2 1262,324.6 1265.5,324 C1270.8,323.1 1276,322.9 1281.3,322.9 C1284.1,322.9 1286.9,328.2 1289.7,328.2 C1292.1,328.2 1294.6,321.8 1297,321.8 C1300.5,321.8 1304.1,324 1307.6,324 C1311.1,324 1314.6,321.5 1318.1,320.8 C1321.6,320.1 1325.1,319.7 1328.6,319.7 C1330.7,319.7 1332.8,326 1334.9,326 C1338,326 1341.2,321.8 1344.3,321.8 C1345,321.8 1345.7,330.6 1346.4,336.6 C1347.1,342.6 1347.8,353 1348.5,357.6 C1349.5,363.9 1350.4,366.6 1351.4,366.6 C1353.6,366.6 1355.8,339.1 1358,331.8 C1360.7,322.9 1363.4,321 1366.1,321 C1372.4,321 1378.6,321.5 1384.9,323.8 C1389.4,325.5 1393.8,331.8 1398.3,331.8 C1402.9,331.8 1407.4,330 1412,330 C1416.3,330 1420.7,330 1425,331.8 C1426.8,332.5 1428.6,374.7 1430.4,374.7 C1432.2,374.7 1433.9,337.2 1435.7,337.2 C1437.5,337.2 1439.3,439 1441.1,439 C1442.9,439 1444.7,402.1 1446.5,390.7 C1450.1,368 1453.6,359 1457.2,350.5 C1459.9,344.2 1462.5,342.5 1465.2,342.5 C1467.9,342.5 1470.6,390.7 1473.3,390.7 C1476.9,390.7 1480.4,380 1484,380 C1487.6,380 1491.1,386.9 1494.7,396 C1497.1,402 1499.4,413.9 1501.8,421.5 C1503.8,427.8 1505.7,438.3 1507.7,438.3 C1509.7,438.3 1511.6,432 1513.6,424.9 C1515.3,418.8 1517,407.1 1518.7,399.7 C1520.9,390 1523.2,384.4 1525.4,374.5 C1527.1,367.1 1528.7,354.6 1530.4,349.2 C1533.2,340.2 1536,338.7 1538.8,337.5 C1542.7,335.8 1546.7,335.8 1550.6,335.8 C1552.8,335.8 1555.1,337.8 1557.3,339.2 C1559.5,340.6 1561.8,339.4 1564,345.9 C1565.1,349.2 1566.3,355.6 1567.4,366 C1568.5,376.3 1569.7,392.3 1570.8,408 C1571.9,423.2 1573,446 1574.1,458.5 C1575.2,471.4 1576.4,481.2 1577.5,483.7 C1579.7,488.7 1582,488.7 1584.2,488.7 C1585.9,488.7 1587.5,475.3 1589.2,475.3 C1592,475.3 1594.8,492.1 1597.6,492.1 C1600.4,492.1 1603.2,492 1606,488.7 C1608.8,485.3 1611.7,483.3 1614.5,471.9 C1616.2,465.2 1617.8,449.5 1619.5,441.7 C1621.2,433.9 1622.8,435.9 1624.5,424.9 C1625.6,417.4 1626.8,401.1 1627.9,391.3 C1629,381.5 1630.2,371.2 1631.3,366 C1633,358.4 1634.6,360.2 1636.3,357.6 C1639.1,353.3 1641.9,348.3 1644.7,345.9 C1648.6,342.6 1652.6,342.5 1656.5,342.5 C1659.3,342.5 1662.1,342.5 1664.9,342.5 C1667.7,342.5 1670.5,342.5 1673.3,344.2 C1675,345.2 1676.6,350.1 1678.3,357.6 C1680.5,367.6 1682.8,384.2 1685,399.7 C1686.7,411.5 1688.4,435 1690.1,438.3 C1691.2,440.4 1692.3,439 1693.4,441.7 C1694.5,444.5 1695.7,468.6 1696.8,475.3 C1698.5,485.2 1700.1,483.3 1701.8,485.4 C1706.3,491 1710.8,490.5 1715.3,492.1 C1720.9,494.1 1726.5,495.5 1732.1,495.5 C1737.7,495.5 1743.3,494.1 1748.9,490.4 C1751.7,488.6 1754.5,485.1 1757.3,482 C1760.1,478.9 1762.9,476 1765.7,471.9 C1767.9,468.6 1770.2,460.2 1772.4,460.2 C1774.7,460.2 1776.9,478.7 1779.2,478.7 C1781.4,478.7 1783.7,467.5 1785.9,458.5 C1788.1,449.5 1790.4,433.2 1792.6,424.9 C1795,415.9 1797.5,412.2 1799.9,407.5 C1801.9,403.7 1803.9,398.8 1805.9,398.8 C1807.9,398.8 1810,431.7 1812,431.7 C1814.3,431.7 1816.6,416.5 1818.9,407.5 C1820.6,400.7 1822.4,384.9 1824.1,384.9 C1825.8,384.9 1827.6,384.9 1829.3,386.7 C1830.5,387.9 1831.6,461.2 1832.8,473.3 C1834,485.4 1835.1,485.4 1836.3,485.4 C1838,485.4 1839.8,479 1841.5,456 C1842.6,440.9 1843.8,384.9 1844.9,384.9 C1846.1,384.9 1847.2,384.9 1848.4,390.1 C1849.6,395.3 1850.7,473.3 1851.9,473.3 C1854.2,473.3 1856.5,473.3 1858.8,473.3 C1860.5,473.3 1862.3,484 1864,487.2 C1866.9,492.5 1869.8,495.8 1872.7,495.8 C1876.7,495.8 1880.8,487.2 1884.8,487.2 C1887.7,487.2 1890.5,490.1 1893.4,492.4 C1898,496.1 1902.7,506.2 1907.3,506.2 C1910.2,506.2 1913.1,497.6 1916,497.6 C1918.9,497.6 1921.7,502.8 1924.6,502.8 C1930.4,502.8 1936.2,500.9 1942,499.3 C1945.5,498.4 1948.9,495.8 1952.4,495.8 C1955.3,495.8 1958.1,501 1961,501 C1963.3,501 1965.7,471.6 1968,471.6 C1969.7,471.6 1971.5,482.6 1973.2,485.4 C1977.2,491.9 1981.3,492.4 1985.3,492.4 C1991.1,492.4 1996.8,487.2 2002.6,487.2 C2008.4,487.2 2014.2,488.2 2020,488.9 C2026.9,489.8 2033.9,489 2040.8,492.4 C2045.4,494.7 2050,504.5 2054.6,504.5 C2058.1,504.5 2061.5,502.2 2065,494.1 C2066.7,490.1 2068.5,475 2070.2,475 C2071.4,475 2072.5,482 2073.7,490.6 C2074.3,494.8 2074.8,502.2 2075.4,508' fill='none' stroke='#ef951f' stroke-width='4.8' stroke-linejoin='round' stroke-linecap='round'/>
<path d='M1054.4,1168.9 C1055.3,1177.7 1056.2,1184.8 1057.1,1195.2 C1058.4,1210.3 1059.7,1233.1 1061,1247.7 C1062.8,1267.5 1064.5,1283.5 1066.3,1295 C1068.9,1311.9 1071.5,1319.7 1074.1,1326.5 C1078.5,1338 1082.9,1342.3 1087.3,1342.3 C1090.8,1342.3 1094.3,1340.5 1097.8,1331.8 C1100,1326.3 1102.2,1326.2 1104.4,1305.5 C1105.7,1293.3 1107,1277 1108.3,1247.7 C1109.2,1228.1 1110,1195.2 1110.9,1168.9 C1111.8,1142.6 1112.6,1113.8 1113.5,1090.1 C1114.4,1065.5 1115.3,1039.4 1116.2,1024.5 C1117.5,1003 1118.8,998.6 1120.1,990.3 C1121.4,981.8 1122.8,978.1 1124.1,974.6 C1125.4,971.2 1126.7,969.3 1128,969.3 C1129.3,969.3 1130.6,971.3 1131.9,973 C1136.3,978.9 1140.7,988.2 1145.1,996 C1153.8,1011.5 1162.6,1024.3 1171.3,1043.5 C1175.7,1053.2 1180.1,1068.7 1184.5,1077.5 C1193.2,1095 1202,1103.2 1210.7,1114.8 C1219.5,1126.4 1228.2,1138.5 1237,1147 C1245.8,1155.5 1254.5,1160.9 1263.3,1166 C1272,1171.1 1280.8,1174.9 1289.5,1177.5 C1298.3,1180.1 1307,1180 1315.8,1181.5 C1323.9,1182.9 1331.9,1184.8 1340,1186 C1346.7,1187 1353.3,1188 1360,1188 C1362.7,1188 1365.3,1188 1368,1188 C1369.2,1188 1370.4,1216.9 1371.6,1216.9 C1372.7,1216.9 1373.9,1199 1375,1190' fill='none' stroke='#a2195c' stroke-width='5' stroke-linejoin='round' stroke-linecap='round'/>
<path d='M1055.8,922 C1057.1,922.5 1058.4,922 1059.7,924.7 C1061.5,928.3 1063.2,941.2 1065,958.8 C1066.3,971.7 1067.6,993.8 1068.9,1011.3 C1070.2,1028.8 1071.5,1046.6 1072.8,1063.9 C1074.1,1081.6 1075.5,1099.6 1076.8,1116.4 C1078.1,1132.8 1079.4,1152.4 1080.7,1163.7 C1082,1175.3 1083.4,1184.7 1084.7,1184.7 C1086,1184.7 1087.3,1180.3 1088.6,1168.9 C1089.9,1157.5 1091.2,1135.8 1092.5,1116.4 C1093.8,1096.5 1095.2,1070.1 1096.5,1050.7 C1098.2,1025.5 1100,1001.6 1101.7,985.1 C1103.5,968.3 1105.2,957.3 1107,950.9 C1109.2,943 1111.3,943 1113.5,943 C1116.1,943 1118.8,949.4 1121.4,953.5 C1124.9,958.9 1128.4,965.7 1131.9,971.9 C1136.3,979.7 1140.7,987.7 1145.1,995.6 C1149.5,1003.5 1153.8,1011.3 1158.2,1019.2 C1162.6,1027.1 1166.9,1034.6 1171.3,1042.9 C1173.9,1047.9 1176.6,1051.4 1179.2,1058.6 C1181,1063.4 1182.7,1072.5 1184.5,1077 C1188.9,1088.1 1193.2,1091.9 1197.6,1098 C1202,1104.1 1206.3,1108.1 1210.7,1113.8 C1215.1,1119.5 1219.5,1126.9 1223.9,1132.2 C1228.3,1137.4 1232.6,1141.4 1237,1145.3 C1241.4,1149.2 1245.7,1152.7 1250.1,1155.8 C1254.5,1158.9 1258.9,1161.1 1263.3,1163.7 C1267.7,1166.3 1272,1169.8 1276.4,1171.6 C1280.8,1173.3 1285.1,1173.3 1289.5,1174.2 C1293.9,1175.1 1298.3,1175.9 1302.7,1176.8 C1307.1,1177.7 1311.4,1178.6 1315.8,1179.5 C1320.2,1180.4 1324.5,1179.9 1328.9,1182.1 C1331.1,1183.2 1333.3,1187.3 1335.5,1187.3 C1336.9,1187.3 1338.2,1184.9 1339.6,1184.9 C1341.1,1184.9 1342.5,1184.9 1344,1188.2 C1345.5,1191.5 1346.9,1219.1 1348.4,1219.1 C1349.9,1219.1 1351.3,1206.6 1352.8,1201.5 C1354.3,1196.3 1355.7,1189.5 1357.2,1188.2 C1360.9,1184.9 1364.5,1184.9 1368.2,1184.9 C1371.9,1184.9 1375.6,1185.1 1379.3,1186 C1383,1186.9 1386.6,1190.2 1390.3,1190.4 C1394,1190.6 1397.6,1190.4 1401.3,1192.7 C1403.1,1193.8 1405,1225.7 1406.8,1225.7 C1408.7,1225.7 1410.5,1203.8 1412.4,1199.3 C1416.1,1190.4 1419.7,1190.4 1423.4,1190.4 C1428.5,1190.4 1433.7,1190.4 1438.8,1190.4 C1440.3,1190.4 1441.7,1210.3 1443.2,1216.9 C1445.4,1226.9 1447.7,1236.8 1449.9,1236.8 C1452.1,1236.8 1454.3,1222.4 1456.5,1216.9 C1458.7,1211.4 1460.9,1203.7 1463.1,1203.7 C1464.6,1203.7 1466,1209.2 1467.5,1223.5 C1469,1237.8 1470.4,1289.7 1471.9,1289.7 C1474.1,1289.7 1476.3,1263.2 1478.5,1254.4 C1480.7,1245.5 1483,1246.5 1485.2,1236.8 C1486.7,1230.5 1488.1,1212.9 1489.6,1210.3 C1493.3,1203.7 1496.9,1203.7 1500.6,1203.7 C1504.3,1203.7 1507.9,1205.9 1511.6,1205.9 C1515.3,1205.9 1519,1197.3 1522.7,1194.9 C1526.4,1192.5 1530,1191.5 1533.7,1191.5 C1538.8,1191.5 1544,1191.6 1549.1,1192.7 C1552.8,1193.5 1556.5,1192.7 1560.2,1199.3 C1563.1,1204.5 1566.1,1210.7 1569,1228 C1570.5,1236.6 1571.9,1248.2 1573.4,1265.5 C1574.1,1274.1 1574.9,1291.2 1575.6,1298.5 C1577.1,1313.2 1578.5,1314.7 1580,1320.6 C1581.5,1326.5 1582.9,1333.8 1584.4,1333.8 C1585.9,1333.8 1587.3,1287.5 1588.8,1287.5 C1590.3,1287.5 1591.8,1317.2 1593.3,1320.6 C1596.2,1327.2 1599.2,1327.2 1602.1,1327.2 C1603.6,1327.2 1605,1306.4 1606.5,1298.5 C1609.4,1282.7 1612.4,1272.8 1615.3,1261 C1618.2,1249.2 1621.2,1228 1624.1,1228 C1625.6,1228 1627,1265.5 1628.5,1265.5 C1630,1265.5 1631.4,1215.5 1632.9,1210.3 C1636.6,1197.2 1640.3,1198.4 1644,1197.1 C1647.7,1195.8 1651.3,1194.9 1655,1194.9 C1659.7,1194.9 1664.3,1194.9 1669,1195.2 C1670.5,1195.3 1672,1203.4 1673.5,1204.2 C1675.8,1205.4 1678,1204.5 1680.3,1206.5 C1681.8,1207.8 1683.3,1213 1684.8,1222.3 C1686.3,1231.8 1687.9,1262.9 1689.4,1262.9 C1690.9,1262.9 1692.4,1247.1 1693.9,1247.1 C1694.6,1247.1 1695.4,1308.1 1696.1,1308.1 C1697.2,1308.1 1698.4,1281 1699.5,1281 C1700.6,1281 1701.8,1300.2 1702.9,1308.1 C1705.2,1323.9 1707.4,1348.7 1709.7,1348.7 C1712,1348.7 1714.2,1348.7 1716.5,1348.7 C1720.2,1348.7 1724,1353.3 1727.7,1353.3 C1732.2,1353.3 1736.8,1353.3 1741.3,1353.3 C1745.1,1353.3 1748.8,1337.4 1752.6,1337.4 C1753.7,1337.4 1754.9,1371.3 1756,1371.3 C1760.1,1371.3 1764.3,1310.3 1768.4,1310.3 C1771.4,1310.3 1774.4,1348.7 1777.4,1348.7 C1780.4,1348.7 1783.5,1321.3 1786.5,1308.1 C1789.5,1295 1792.5,1278.5 1795.5,1269.7 C1799.3,1258.6 1803,1251.6 1806.8,1251.6 C1809.1,1251.6 1811.3,1285.5 1813.6,1285.5 C1816.6,1285.5 1819.6,1249.5 1822.6,1244.9 C1825.6,1240.3 1828.6,1240.3 1831.6,1240.3 C1832.7,1240.3 1833.9,1346.5 1835,1346.5 C1836.9,1346.5 1838.8,1346.5 1840.7,1330.7 C1842.6,1315.2 1844.4,1233.6 1846.3,1233.6 C1848.2,1233.6 1850.1,1342 1852,1342 C1855,1342 1858,1278.7 1861,1278.7 C1863.3,1278.7 1865.5,1294.4 1867.8,1303.5 C1870.8,1315.5 1873.8,1342.9 1876.8,1342.9 C1879.1,1342.9 1881.3,1290 1883.6,1290 C1885.5,1290 1887.3,1340.2 1889.2,1340.2 C1891.1,1340.2 1893,1285.5 1894.9,1285.5 C1897.9,1285.5 1900.9,1304.3 1903.9,1319.4 C1906.2,1330.8 1908.4,1362.3 1910.7,1362.3 C1913,1362.3 1915.2,1310.3 1917.5,1310.3 C1919,1310.3 1920.5,1355.5 1922,1355.5 C1927.3,1355.5 1932.5,1303.6 1937.8,1303.6 C1941.6,1303.6 1945.3,1342 1949.1,1342 C1950.6,1342 1952.1,1314.9 1953.6,1314.9 C1955.9,1314.9 1958.1,1353.3 1960.4,1353.3 C1962.6,1353.3 1964.9,1330.7 1967.1,1330.7 C1970.1,1330.7 1973.2,1345.1 1976.2,1348.7 C1980,1353.2 1983.7,1353.3 1987.5,1353.3 C1992,1353.3 1996.5,1351 2001,1351 C2004.8,1351 2008.5,1357.6 2012.3,1360 C2016.8,1362.9 2021.4,1366.8 2025.9,1366.8 C2031.2,1366.8 2036.4,1366.8 2041.7,1366.8 C2046.2,1366.8 2050.7,1382 2055.2,1382 C2057.5,1382 2059.7,1375.3 2062,1366.8 C2064.3,1358.2 2066.5,1330.7 2068.8,1330.7 C2070.7,1330.7 2072.5,1330.7 2074.4,1342 C2075.1,1346.2 2075.8,1367.3 2076.5,1380' fill='none' stroke='#1b5aa7' stroke-width='5.2' stroke-linejoin='round' stroke-linecap='round'/>
<path d='M1055,2242 C1057.1,2244.7 1059.3,2248.3 1061.4,2250 C1065.9,2253.5 1070.3,2254.1 1074.8,2254.5 C1081.1,2255 1087.3,2255 1093.6,2255 C1098.5,2255 1103.4,2255 1108.3,2254.5 C1109.6,2254.4 1111,2254.5 1112.3,2237.5 C1113.2,2226 1114.1,2206.3 1115,2178.6 C1115.9,2150.9 1116.8,2102.8 1117.7,2071.5 C1118.6,2040.2 1119.5,2013.8 1120.4,1991.1 C1121.3,1969.3 1122.1,1952.5 1123,1937.5 C1123.9,1922 1124.8,1908 1125.7,1900 C1127,1888.1 1128.4,1892 1129.7,1884 C1130.6,1878.6 1131.5,1867.2 1132.4,1862.5 C1133.3,1857.8 1134.2,1855.8 1135.1,1855.8 C1136.4,1855.8 1137.8,1864.3 1139.1,1867.9 C1141.8,1875.1 1144.5,1880.8 1147.2,1886.6 C1151.6,1896.2 1156.1,1904.1 1160.5,1913.4 C1165,1922.8 1169.4,1935.3 1173.9,1942.9 C1178.4,1950.5 1182.8,1954 1187.3,1958.9 C1191.8,1963.8 1196.2,1966.9 1200.7,1972.3 C1205.2,1977.7 1209.6,1985.3 1214.1,1991.1 C1218.6,1996.9 1223,2002.7 1227.5,2007.2 C1232,2011.7 1236.4,2013.9 1240.9,2017.9 C1245.4,2021.9 1249.8,2025.3 1254.3,2031.3 C1257,2034.9 1259.6,2041.7 1262.3,2044.7 C1266.8,2049.8 1271.2,2052.7 1275.7,2052.7 C1282,2052.7 1288.2,2049.9 1294.5,2047.4 C1299,2045.6 1303.4,2042.8 1307.9,2040.6 C1312.4,2038.4 1316.8,2034 1321.3,2034 C1323.1,2034 1324.8,2034 1326.6,2039.3 C1328,2043.4 1329.3,2095.6 1330.7,2095.6 C1332,2095.6 1333.4,2047.3 1334.7,2039.3 C1337.4,2023.2 1340,2023.2 1342.7,2023.2 C1344.5,2023.2 1346.3,2068.8 1348.1,2068.8 C1349.9,2068.8 1351.6,2055.3 1353.4,2044.7 C1355.2,2033.9 1357,2014.1 1358.8,2004.5 C1361,1992.6 1363.3,1983.1 1365.5,1983.1 C1366.8,1983.1 1368.2,1983.1 1369.5,1991.1 C1370.8,1999.1 1372.2,2181.3 1373.5,2181.3 C1374.8,2181.3 1376.2,2000.1 1377.5,1991.1 C1379.3,1979 1381.1,1979 1382.9,1979 C1384.6,1979 1386.3,1985.1 1388,1987.8 C1389.3,1990 1390.7,1993.8 1392,1993.8 C1394,1993.8 1396,1983.8 1398,1983.8 C1399.3,1983.8 1400.7,1986.5 1402,1999.8 C1403,2009.8 1404,2047.7 1405,2047.7 C1406.7,2047.7 1408.3,2019.8 1410,2019.8 C1411.3,2019.8 1412.7,2023.8 1414,2023.8 C1415.3,2023.8 1416.6,2003.1 1417.9,1995.8 C1419.2,1988.3 1420.6,1981.3 1421.9,1979.8 C1424.6,1976.8 1427.2,1976.8 1429.9,1976.8 C1433.2,1976.8 1436.6,1976.8 1439.9,1976.8 C1442.2,1976.8 1444.6,1976.8 1446.9,1983.8 C1447.9,1986.8 1448.9,2006.5 1449.9,2019.8 C1450.9,2033.1 1451.9,2063.7 1452.9,2063.7 C1453.9,2063.7 1454.8,2029.7 1455.8,2029.7 C1456.8,2029.7 1457.8,2063.7 1458.8,2063.7 C1459.8,2063.7 1460.8,2027.7 1461.8,2027.7 C1463.1,2027.7 1464.5,2047.5 1465.8,2063.7 C1466.8,2075.8 1467.8,2094.6 1468.8,2109.6 C1469.8,2124.6 1470.8,2153.5 1471.8,2153.5 C1472.8,2153.5 1473.8,2123.6 1474.8,2123.6 C1475.8,2123.6 1476.8,2139.5 1477.8,2139.5 C1479.8,2139.5 1481.8,2126.2 1483.8,2109.6 C1485.8,2093 1487.8,2047.9 1489.8,2039.7 C1491.8,2031.5 1493.8,2035.4 1495.8,2029.7 C1497.1,2025.9 1498.5,2006.1 1499.8,1999.8 C1501.8,1990.4 1503.7,1987.8 1505.7,1987.8 C1510.4,1987.8 1515,1987.8 1519.7,1987.8 C1523.7,1987.8 1527.7,1984.8 1531.7,1983.8 C1535.7,1982.8 1539.7,1981.8 1543.7,1981.8 C1547,1981.8 1550.4,1985.9 1553.7,1989.8 C1556.3,1992.9 1559,1995 1561.6,2001.8 C1563.6,2007 1565.6,2008.7 1567.6,2023.8 C1568.9,2033.9 1570.3,2053.7 1571.6,2069.7 C1572.9,2085.7 1574.3,2103.6 1575.6,2119.6 C1576.9,2135.6 1578.3,2165.5 1579.6,2165.5 C1581.6,2165.5 1583.6,2165.5 1585.6,2155.5 C1586.6,2150.5 1587.6,2129.5 1588.6,2129.5 C1589.6,2129.5 1590.6,2155.5 1591.6,2155.5 C1593.6,2155.5 1595.6,2135.6 1597.6,2119.6 C1598.9,2108.9 1600.3,2089.6 1601.6,2079.6 C1603.6,2064.8 1605.5,2054 1607.5,2049.7 C1610.2,2043.8 1612.8,2045 1615.5,2043.7 C1618.2,2042.4 1620.8,2042.2 1623.5,2039.7 C1626.8,2036.5 1630.2,2030.9 1633.5,2025.7 C1636.2,2021.5 1638.8,2015.6 1641.5,2011.8 C1643.8,2008.4 1646.2,2003.8 1648.5,2003.8 C1650.8,2003.8 1653.1,2003.8 1655.4,2007.8 C1657.1,2010.7 1658.7,2047.7 1660.4,2047.7 C1662.1,2047.7 1663.7,2025.6 1665.4,2019.8 C1667.1,2014 1668.7,2012.8 1670.4,2012.8 C1672.7,2012.8 1675.1,2020.5 1677.4,2027.7 C1680.1,2035.9 1682.7,2049.4 1685.4,2059.7 C1688.1,2070 1690.7,2074.4 1693.4,2089.6 C1695.4,2101 1697.4,2123.9 1699.4,2135.5 C1701,2144.6 1702.5,2143 1704.1,2153.9 C1705.5,2163.4 1706.8,2186.2 1708.2,2194.8 C1710.6,2209.9 1713,2213.3 1715.4,2213.3 C1717.1,2213.3 1718.8,2207.1 1720.5,2207.1 C1723.9,2207.1 1727.3,2207.1 1730.7,2207.1 C1734.1,2207.1 1737.6,2207.1 1741,2207.1 C1744.4,2207.1 1747.8,2207.1 1751.2,2209.2 C1753.6,2210.7 1756,2221.5 1758.4,2221.5 C1760.1,2221.5 1761.8,2221.2 1763.5,2219.4 C1765.5,2217.3 1767.6,2209.2 1769.6,2209.2 C1771.7,2209.2 1773.7,2223.5 1775.8,2223.5 C1778.5,2223.5 1781.3,2223.5 1784,2213.3 C1786,2205.7 1788.1,2184.4 1790.1,2174.4 C1792.8,2160.9 1795.6,2154.2 1798.3,2145.7 C1801,2137.1 1803.8,2128.9 1806.5,2123.1 C1809.2,2117.3 1812,2114.6 1814.7,2110.9 C1818.1,2106.3 1821.6,2098.6 1825,2098.6 C1828.4,2098.6 1831.8,2112.9 1835.2,2112.9 C1838.6,2112.9 1842,2090.4 1845.4,2090.4 C1848.1,2090.4 1850.9,2106.8 1853.6,2106.8 C1857,2106.8 1860.5,2082.2 1863.9,2082.2 C1868,2082.2 1872.1,2086.3 1876.2,2086.3 C1878.9,2086.3 1881.7,2081.7 1884.4,2080.1 C1887.8,2078.1 1891.2,2076 1894.6,2076 C1898,2076 1901.4,2078.4 1904.8,2080.1 C1908.2,2081.8 1911.7,2083.6 1915.1,2086.3 C1918.5,2089 1921.9,2093.4 1925.3,2096.5 C1928.7,2099.6 1932.2,2100.9 1935.6,2104.7 C1939,2108.4 1942.4,2111.5 1945.8,2119 C1948.5,2125 1951.3,2133.7 1954,2143.6 C1956.7,2153.5 1959.5,2165.4 1962.2,2178.5 C1964.2,2188.3 1966.3,2204.2 1968.3,2211.2 C1971,2220.6 1973.8,2220.7 1976.5,2223.5 C1981.3,2228.5 1986.1,2231.7 1990.9,2231.7 C1993.6,2231.7 1996.4,2229.7 1999.1,2229.7 C2005.2,2229.7 2011.4,2236.9 2017.5,2239.9 C2022.3,2242.2 2027,2246 2031.8,2246 C2038.6,2246 2045.5,2246 2052.3,2246 C2055,2246 2057.8,2238.2 2060.5,2231.7 C2063.9,2223.6 2067.4,2201 2070.8,2201 C2072.8,2201 2074.9,2213.3 2076.9,2219.4' fill='none' stroke='#1c9bc0' stroke-width='4.6' stroke-linejoin='round' stroke-linecap='round'/>
<rect x='1053.0' y='13.0' width='1025.0' height='499.0' fill='none' stroke='#000' stroke-width='4'/>
<path d='M1109.9,512 V500 M1109.9,13 V25 M1166.9,512 V500 M1166.9,13 V25 M1223.8,512 V488 M1223.8,13 V37 M1280.8,512 V500 M1280.8,13 V25 M1337.7,512 V500 M1337.7,13 V25 M1394.7,512 V500 M1394.7,13 V25 M1451.6,512 V500 M1451.6,13 V25 M1508.6,512 V488 M1508.6,13 V37 M1565.5,512 V500 M1565.5,13 V25 M1622.4,512 V500 M1622.4,13 V25 M1679.4,512 V500 M1679.4,13 V25 M1736.3,512 V500 M1736.3,13 V25 M1793.3,512 V488 M1793.3,13 V37 M1850.2,512 V500 M1850.2,13 V25 M1907.2,512 V500 M1907.2,13 V25 M1964.1,512 V500 M1964.1,13 V25 M2021.1,512 V500 M2021.1,13 V25 M1053,428.8 H1072 M2078,428.8 H2059 M1053,345.7 H1072 M2078,345.7 H2059 M1053,262.5 H1072 M2078,262.5 H2059 M1053,179.3 H1072 M2078,179.3 H2059 M1053,96.2 H1072 M2078,96.2 H2059' stroke='#000' stroke-width='3.5' fill='none'/>
<text x='1223.8' y='573.5' font-size='50' font-family='Liberation Sans' text-anchor='middle' textLength='57' lengthAdjust='spacingAndGlyphs' >0.5</text>
<text x='1508.6' y='573.5' font-size='50' font-family='Liberation Sans' text-anchor='middle' textLength='57' lengthAdjust='spacingAndGlyphs' >1.0</text>
<text x='1793.3' y='573.5' font-size='50' font-family='Liberation Sans' text-anchor='middle' textLength='57' lengthAdjust='spacingAndGlyphs' >1.5</text>
<text x='2078' y='573.5' font-size='50' font-family='Liberation Sans' text-anchor='middle' textLength='57' lengthAdjust='spacingAndGlyphs' >2.0</text>
<text x='1031' y='517.5' font-size='50' font-family='Liberation Sans' text-anchor='end' textLength='55' lengthAdjust='spacingAndGlyphs' stroke='#fff' stroke-opacity='0.55' stroke-width='4' stroke-linejoin='round' paint-order='stroke' >0.0</text>
<text x='1031' y='446.3' font-size='50' font-family='Liberation Sans' text-anchor='end' textLength='55' lengthAdjust='spacingAndGlyphs' stroke='#fff' stroke-opacity='0.55' stroke-width='4' stroke-linejoin='round' paint-order='stroke' >0.1</text>
<text x='1031' y='363.2' font-size='50' font-family='Liberation Sans' text-anchor='end' textLength='55' lengthAdjust='spacingAndGlyphs' stroke='#fff' stroke-opacity='0.55' stroke-width='4' stroke-linejoin='round' paint-order='stroke' >0.2</text>
<text x='1031' y='280' font-size='50' font-family='Liberation Sans' text-anchor='end' textLength='55' lengthAdjust='spacingAndGlyphs' stroke='#fff' stroke-opacity='0.55' stroke-width='4' stroke-linejoin='round' paint-order='stroke' >0.3</text>
<text x='1031' y='196.8' font-size='50' font-family='Liberation Sans' text-anchor='end' textLength='55' lengthAdjust='spacingAndGlyphs' stroke='#fff' stroke-opacity='0.55' stroke-width='4' stroke-linejoin='round' paint-order='stroke' >0.4</text>
<text x='1031' y='113.7' font-size='50' font-family='Liberation Sans' text-anchor='end' textLength='55' lengthAdjust='spacingAndGlyphs' stroke='#fff' stroke-opacity='0.55' stroke-width='4' stroke-linejoin='round' paint-order='stroke' >0.5</text>
<text x='1031' y='39' font-size='50' font-family='Liberation Sans' text-anchor='end' textLength='55' lengthAdjust='spacingAndGlyphs' stroke='#fff' stroke-opacity='0.55' stroke-width='4' stroke-linejoin='round' paint-order='stroke' >0.6</text>
<text x='1602.5' y='650.5' font-size='53' font-family='Liberation Sans' text-anchor='middle' textLength='415' lengthAdjust='spacingAndGlyphs' >wavelength (<tspan font-style='italic'>μ</tspan>m)</text>
<text transform='translate(925,263.5) rotate(-90)' x='0' y='0' font-size='56' font-family='Liberation Sans' text-anchor='middle' textLength='165' lengthAdjust='spacingAndGlyphs' stroke='#fff' stroke-opacity='0.6' stroke-width='4' stroke-linejoin='round' paint-order='stroke'>albedo</text>
<rect x='1053.0' y='884.5' width='1025.0' height='498.5' fill='none' stroke='#000' stroke-width='4'/>
<path d='M1109.9,1383 V1371 M1109.9,884.5 V896.5 M1166.9,1383 V1371 M1166.9,884.5 V896.5 M1223.8,1383 V1359 M1223.8,884.5 V908.5 M1280.8,1383 V1371 M1280.8,884.5 V896.5 M1337.7,1383 V1371 M1337.7,884.5 V896.5 M1394.7,1383 V1371 M1394.7,884.5 V896.5 M1451.6,1383 V1371 M1451.6,884.5 V896.5 M1508.6,1383 V1359 M1508.6,884.5 V908.5 M1565.5,1383 V1371 M1565.5,884.5 V896.5 M1622.4,1383 V1371 M1622.4,884.5 V896.5 M1679.4,1383 V1371 M1679.4,884.5 V896.5 M1736.3,1383 V1371 M1736.3,884.5 V896.5 M1793.3,1383 V1359 M1793.3,884.5 V908.5 M1850.2,1383 V1371 M1850.2,884.5 V896.5 M1907.2,1383 V1371 M1907.2,884.5 V896.5 M1964.1,1383 V1371 M1964.1,884.5 V896.5 M2021.1,1383 V1371 M2021.1,884.5 V896.5 M1053,1283.3 H1072 M2078,1283.3 H2059 M1053,1183.6 H1072 M2078,1183.6 H2059 M1053,1083.9 H1072 M2078,1083.9 H2059 M1053,984.2 H1072 M2078,984.2 H2059' stroke='#000' stroke-width='3.5' fill='none'/>
<text x='1223.8' y='1444.5' font-size='50' font-family='Liberation Sans' text-anchor='middle' textLength='57' lengthAdjust='spacingAndGlyphs' >0.5</text>
<text x='1508.6' y='1444.5' font-size='50' font-family='Liberation Sans' text-anchor='middle' textLength='57' lengthAdjust='spacingAndGlyphs' >1.0</text>
<text x='1793.3' y='1444.5' font-size='50' font-family='Liberation Sans' text-anchor='middle' textLength='57' lengthAdjust='spacingAndGlyphs' >1.5</text>
<text x='2078' y='1444.5' font-size='50' font-family='Liberation Sans' text-anchor='middle' textLength='57' lengthAdjust='spacingAndGlyphs' >2.0</text>
<text x='1031' y='1388.5' font-size='50' font-family='Liberation Sans' text-anchor='end' textLength='55' lengthAdjust='spacingAndGlyphs' stroke='#fff' stroke-opacity='0.55' stroke-width='4' stroke-linejoin='round' paint-order='stroke' >0.0</text>
<text x='1031' y='1300.8' font-size='50' font-family='Liberation Sans' text-anchor='end' textLength='55' lengthAdjust='spacingAndGlyphs' stroke='#fff' stroke-opacity='0.55' stroke-width='4' stroke-linejoin='round' paint-order='stroke' >0.1</text>
<text x='1031' y='1201.1' font-size='50' font-family='Liberation Sans' text-anchor='end' textLength='55' lengthAdjust='spacingAndGlyphs' stroke='#fff' stroke-opacity='0.55' stroke-width='4' stroke-linejoin='round' paint-order='stroke' >0.2</text>
<text x='1031' y='1101.4' font-size='50' font-family='Liberation Sans' text-anchor='end' textLength='55' lengthAdjust='spacingAndGlyphs' stroke='#fff' stroke-opacity='0.55' stroke-width='4' stroke-linejoin='round' paint-order='stroke' >0.3</text>
<text x='1031' y='1001.7' font-size='50' font-family='Liberation Sans' text-anchor='end' textLength='55' lengthAdjust='spacingAndGlyphs' stroke='#fff' stroke-opacity='0.55' stroke-width='4' stroke-linejoin='round' paint-order='stroke' >0.4</text>
<text x='1031' y='910.5' font-size='50' font-family='Liberation Sans' text-anchor='end' textLength='55' lengthAdjust='spacingAndGlyphs' stroke='#fff' stroke-opacity='0.55' stroke-width='4' stroke-linejoin='round' paint-order='stroke' >0.5</text>
<text x='1602.5' y='1521.5' font-size='53' font-family='Liberation Sans' text-anchor='middle' textLength='415' lengthAdjust='spacingAndGlyphs' >wavelength (<tspan font-style='italic'>μ</tspan>m)</text>
<text transform='translate(925,1134.8) rotate(-90)' x='0' y='0' font-size='56' font-family='Liberation Sans' text-anchor='middle' textLength='165' lengthAdjust='spacingAndGlyphs' stroke='#fff' stroke-opacity='0.6' stroke-width='4' stroke-linejoin='round' paint-order='stroke'>albedo</text>
<rect x='1053.0' y='1757.5' width='1025.0' height='498.8000000000002' fill='none' stroke='#000' stroke-width='4'/>
<path d='M1109.9,2256.3 V2244.3 M1109.9,1757.5 V1769.5 M1166.9,2256.3 V2244.3 M1166.9,1757.5 V1769.5 M1223.8,2256.3 V2232.3 M1223.8,1757.5 V1781.5 M1280.8,2256.3 V2244.3 M1280.8,1757.5 V1769.5 M1337.7,2256.3 V2244.3 M1337.7,1757.5 V1769.5 M1394.7,2256.3 V2244.3 M1394.7,1757.5 V1769.5 M1451.6,2256.3 V2244.3 M1451.6,1757.5 V1769.5 M1508.6,2256.3 V2232.3 M1508.6,1757.5 V1781.5 M1565.5,2256.3 V2244.3 M1565.5,1757.5 V1769.5 M1622.4,2256.3 V2244.3 M1622.4,1757.5 V1769.5 M1679.4,2256.3 V2244.3 M1679.4,1757.5 V1769.5 M1736.3,2256.3 V2244.3 M1736.3,1757.5 V1769.5 M1793.3,2256.3 V2232.3 M1793.3,1757.5 V1781.5 M1850.2,2256.3 V2244.3 M1850.2,1757.5 V1769.5 M1907.2,2256.3 V2244.3 M1907.2,1757.5 V1769.5 M1964.1,2256.3 V2244.3 M1964.1,1757.5 V1769.5 M2021.1,2256.3 V2244.3 M2021.1,1757.5 V1769.5 M1053,2131.6 H1072 M2078,2131.6 H2059 M1053,2006.9 H1072 M2078,2006.9 H2059 M1053,1882.2 H1072 M2078,1882.2 H2059' stroke='#000' stroke-width='3.5' fill='none'/>
<text x='1223.8' y='2317.8' font-size='50' font-family='Liberation Sans' text-anchor='middle' textLength='57' lengthAdjust='spacingAndGlyphs' >0.5</text>
<text x='1508.6' y='2317.8' font-size='50' font-family='Liberation Sans' text-anchor='middle' textLength='57' lengthAdjust='spacingAndGlyphs' >1.0</text>
<text x='1793.3' y='2317.8' font-size='50' font-family='Liberation Sans' text-anchor='middle' textLength='57' lengthAdjust='spacingAndGlyphs' >1.5</text>
<text x='2078' y='2317.8' font-size='50' font-family='Liberation Sans' text-anchor='middle' textLength='57' lengthAdjust='spacingAndGlyphs' >2.0</text>
<text x='1031' y='2261.8' font-size='50' font-family='Liberation Sans' text-anchor='end' textLength='55' lengthAdjust='spacingAndGlyphs' stroke='#fff' stroke-opacity='0.55' stroke-width='4' stroke-linejoin='round' paint-order='stroke' >0.0</text>
<text x='1031' y='2149.1' font-size='50' font-family='Liberation Sans' text-anchor='end' textLength='55' lengthAdjust='spacingAndGlyphs' stroke='#fff' stroke-opacity='0.55' stroke-width='4' stroke-linejoin='round' paint-order='stroke' >0.1</text>
<text x='1031' y='2024.4' font-size='50' font-family='Liberation Sans' text-anchor='end' textLength='55' lengthAdjust='spacingAndGlyphs' stroke='#fff' stroke-opacity='0.55' stroke-width='4' stroke-linejoin='round' paint-order='stroke' >0.2</text>
<text x='1031' y='1899.7' font-size='50' font-family='Liberation Sans' text-anchor='end' textLength='55' lengthAdjust='spacingAndGlyphs' stroke='#fff' stroke-opacity='0.55' stroke-width='4' stroke-linejoin='round' paint-order='stroke' >0.3</text>
<text x='1031' y='1783.5' font-size='50' font-family='Liberation Sans' text-anchor='end' textLength='55' lengthAdjust='spacingAndGlyphs' stroke='#fff' stroke-opacity='0.55' stroke-width='4' stroke-linejoin='round' paint-order='stroke' >0.4</text>
<text x='1602.5' y='2394.8' font-size='53' font-family='Liberation Sans' text-anchor='middle' textLength='415' lengthAdjust='spacingAndGlyphs' >wavelength (<tspan font-style='italic'>μ</tspan>m)</text>
<text transform='translate(925,2007.9) rotate(-90)' x='0' y='0' font-size='56' font-family='Liberation Sans' text-anchor='middle' textLength='165' lengthAdjust='spacingAndGlyphs' stroke='#fff' stroke-opacity='0.6' stroke-width='4' stroke-linejoin='round' paint-order='stroke'>albedo</text>
<text x='1649' y='95.9' font-size='56' font-family='Liberation Sans' textLength='383' lengthAdjust='spacingAndGlyphs' font-weight='bold' >Archean Earth</text>
<text x='1905' y='151.8' font-size='47' font-family='Liberation Sans' text-anchor='end' textLength='149.3' lengthAdjust='spacingAndGlyphs' >Archean</text>
<text x='1907.5' y='206.6' font-size='47' font-family='Liberation Sans' text-anchor='end' textLength='243.2' lengthAdjust='spacingAndGlyphs' >hazy Archean</text>
<line x1='1927' y1='139' x2='2035' y2='139' stroke='#000' stroke-width='5.5'/>
<line x1='1927' y1='188.5' x2='2035' y2='188.5' stroke='#ef951f' stroke-width='4.5'/>
<text x='1537.3' y='966.6' font-size='56' font-family='Liberation Sans' textLength='490' lengthAdjust='spacingAndGlyphs' font-weight='bold' >Proterozoic Earth</text>
<text x='1911.2' y='1029.7' font-size='44' font-family='Liberation Sans' text-anchor='end' textLength='415' lengthAdjust='spacingAndGlyphs' >1% present level of O<tspan font-size='31' dy='8'>2</tspan></text>
<text x='1911.2' y='1092.9' font-size='44' font-family='Liberation Sans' text-anchor='end' textLength='451' lengthAdjust='spacingAndGlyphs' >0.1% present level of O<tspan font-size='31' dy='8'>2</tspan></text>
<line x1='1927.5' y1='1011' x2='2034' y2='1011' stroke='#a2195c' stroke-width='4.5'/>
<line x1='1927.5' y1='1071.4' x2='2034' y2='1071.4' stroke='#1b5aa7' stroke-width='4.5'/>
<text x='1677.8' y='1840.4' font-size='56' font-family='Liberation Sans' textLength='359' lengthAdjust='spacingAndGlyphs' font-weight='bold' >Modern Earth</text>
<text x='1908.3' y='1895.9' font-size='47' font-family='Liberation Sans' text-anchor='end' textLength='138.3' lengthAdjust='spacingAndGlyphs' >modern</text>
<line x1='1927.2' y1='1884.8' x2='2034.2' y2='1884.8' stroke='#1c9bc0' stroke-width='5'/>
<text x='1104.9' y='330.5' font-size='42.5' font-family='Liberation Sans' textLength='71' lengthAdjust='spacingAndGlyphs' stroke='#000' stroke-width='0.8' >haze</text>
<text x='1323.2' y='291' font-size='46.5' font-family='Liberation Sans' textLength='61.7' lengthAdjust='spacingAndGlyphs' stroke='#000' stroke-width='0.9' >CH<tspan font-size='31.5' dy='8'>4</tspan></text>
<text x='1426.4' y='315.7' font-size='46.5' font-family='Liberation Sans' textLength='61.6' lengthAdjust='spacingAndGlyphs' stroke='#000' stroke-width='0.9' >CH<tspan font-size='31.5' dy='8'>4</tspan></text>
<text x='1571.6' y='304.7' font-size='46.5' font-family='Liberation Sans' textLength='60.5' lengthAdjust='spacingAndGlyphs' stroke='#000' stroke-width='0.9' >CH<tspan font-size='31.5' dy='8'>4</tspan></text>
<text x='1573.3' y='352.6' font-size='46.5' font-family='Liberation Sans' textLength='60.5' lengthAdjust='spacingAndGlyphs' stroke='#000' stroke-width='0.9' >H<tspan font-size='31.5' dy='8'>2</tspan><tspan dy='-8'>O</tspan></text>
<text x='1690' y='329.1' font-size='46.5' font-family='Liberation Sans' textLength='60.6' lengthAdjust='spacingAndGlyphs' stroke='#000' stroke-width='0.9' >CH<tspan font-size='31.5' dy='8'>4</tspan></text>
<text x='1691.8' y='382' font-size='46.5' font-family='Liberation Sans' textLength='61.3' lengthAdjust='spacingAndGlyphs' stroke='#000' stroke-width='0.9' >H<tspan font-size='31.5' dy='8'>2</tspan><tspan dy='-8'>O</tspan></text>
<text x='1433' y='495.2' font-size='46.5' font-family='Liberation Sans' textLength='61.7' lengthAdjust='spacingAndGlyphs' stroke='#000' stroke-width='0.9' >H<tspan font-size='31.5' dy='8'>2</tspan><tspan dy='-8'>O</tspan></text>
<text x='1498.5' y='476.1' font-size='46.5' font-family='Liberation Sans' textLength='59.7' lengthAdjust='spacingAndGlyphs' stroke='#000' stroke-width='0.9' >CH<tspan font-size='31.5' dy='8'>4</tspan></text>
<text x='1799' y='354.6' font-size='46.5' font-family='Liberation Sans' textLength='62.4' lengthAdjust='spacingAndGlyphs' stroke='#000' stroke-width='0.9' >CO<tspan font-size='31.5' dy='8'>2</tspan></text>
<text x='1890' y='452.5' font-size='46.5' font-family='Liberation Sans' textLength='62.4' lengthAdjust='spacingAndGlyphs' stroke='#000' stroke-width='0.9' >CH<tspan font-size='31.5' dy='8'>4</tspan></text>
<text x='1984.4' y='448.2' font-size='46.5' font-family='Liberation Sans' textLength='61.6' lengthAdjust='spacingAndGlyphs' stroke='#000' stroke-width='0.9' >H<tspan font-size='31.5' dy='8'>2</tspan><tspan dy='-8'>O</tspan></text>
<text x='1067.6' y='1239.9' font-size='46.5' font-family='Liberation Sans' textLength='39.4' lengthAdjust='spacingAndGlyphs' stroke='#000' stroke-width='0.9' >O<tspan font-size='31.5' dy='8'>3</tspan></text>
<text x='1294.3' y='1282' font-size='46.5' font-family='Liberation Sans' textLength='61.8' lengthAdjust='spacingAndGlyphs' stroke='#000' stroke-width='0.9' >H<tspan font-size='31.5' dy='8'>2</tspan><tspan dy='-8'>O</tspan></text>
<text x='1377' y='1282' font-size='46.5' font-family='Liberation Sans' textLength='61.8' lengthAdjust='spacingAndGlyphs' stroke='#000' stroke-width='0.9' >H<tspan font-size='31.5' dy='8'>2</tspan><tspan dy='-8'>O</tspan></text>
<text x='1355' y='1318.4' font-size='46.5' font-family='Liberation Sans' textLength='38.6' lengthAdjust='spacingAndGlyphs' stroke='#000' stroke-width='0.9' >O<tspan font-size='31.5' dy='8'>2</tspan></text>
<text x='1435.5' y='1165.1' font-size='46.5' font-family='Liberation Sans' textLength='64' lengthAdjust='spacingAndGlyphs' stroke='#000' stroke-width='0.9' >H<tspan font-size='31.5' dy='8'>2</tspan><tspan dy='-8'>O</tspan></text>
<text x='1558' y='1178.3' font-size='46.5' font-family='Liberation Sans' textLength='62.8' lengthAdjust='spacingAndGlyphs' stroke='#000' stroke-width='0.9' >H<tspan font-size='31.5' dy='8'>2</tspan><tspan dy='-8'>O</tspan></text>
<text x='1707.4' y='1205.3' font-size='46.5' font-family='Liberation Sans' textLength='61' lengthAdjust='spacingAndGlyphs' stroke='#000' stroke-width='0.9' >CH<tspan font-size='31.5' dy='8'>4</tspan></text>
<text x='1708.6' y='1258.4' font-size='46.5' font-family='Liberation Sans' textLength='63.2' lengthAdjust='spacingAndGlyphs' stroke='#000' stroke-width='0.9' >H<tspan font-size='31.5' dy='8'>2</tspan><tspan dy='-8'>O</tspan></text>
<text x='1800' y='1216.6' font-size='46.5' font-family='Liberation Sans' textLength='61' lengthAdjust='spacingAndGlyphs' stroke='#000' stroke-width='0.9' >CO<tspan font-size='31.5' dy='8'>2</tspan></text>
<text x='1890.4' y='1262.9' font-size='46.5' font-family='Liberation Sans' textLength='60.9' lengthAdjust='spacingAndGlyphs' stroke='#000' stroke-width='0.9' >CH<tspan font-size='31.5' dy='8'>4</tspan></text>
<text x='1972.8' y='1305.8' font-size='46.5' font-family='Liberation Sans' textLength='62.1' lengthAdjust='spacingAndGlyphs' stroke='#000' stroke-width='0.9' >H<tspan font-size='31.5' dy='8'>2</tspan><tspan dy='-8'>O</tspan></text>
<text x='1068.1' y='2059.4' font-size='46.5' font-family='Liberation Sans' textLength='38.9' lengthAdjust='spacingAndGlyphs' stroke='#000' stroke-width='0.9' >O<tspan font-size='31.5' dy='8'>3</tspan></text>
<text x='1266.4' y='2008.5' font-size='46.5' font-family='Liberation Sans' textLength='38.8' lengthAdjust='spacingAndGlyphs' stroke='#000' stroke-width='0.9' >O<tspan font-size='31.5' dy='8'>3</tspan></text>
<text x='1314.6' y='1972.3' font-size='46.5' font-family='Liberation Sans' textLength='64.3' lengthAdjust='spacingAndGlyphs' stroke='#000' stroke-width='0.9' >H<tspan font-size='31.5' dy='8'>2</tspan><tspan dy='-8'>O</tspan></text>
<text x='1309.2' y='2143.8' font-size='46.5' font-family='Liberation Sans' textLength='38.8' lengthAdjust='spacingAndGlyphs' stroke='#000' stroke-width='0.9' >O<tspan font-size='31.5' dy='8'>2</tspan></text>
<text x='1352.1' y='2218.8' font-size='46.5' font-family='Liberation Sans' textLength='37.5' lengthAdjust='spacingAndGlyphs' stroke='#000' stroke-width='0.9' >O<tspan font-size='31.5' dy='8'>2</tspan></text>
<text x='1436.9' y='1955.9' font-size='46.5' font-family='Liberation Sans' textLength='61.9' lengthAdjust='spacingAndGlyphs' stroke='#000' stroke-width='0.9' >H<tspan font-size='31.5' dy='8'>2</tspan><tspan dy='-8'>O</tspan></text>
<text x='1383' y='2082.6' font-size='46.5' font-family='Liberation Sans' textLength='61.9' lengthAdjust='spacingAndGlyphs' stroke='#000' stroke-width='0.9' >H<tspan font-size='31.5' dy='8'>2</tspan><tspan dy='-8'>O</tspan></text>
<text x='1558.6' y='1970.9' font-size='46.5' font-family='Liberation Sans' textLength='61.9' lengthAdjust='spacingAndGlyphs' stroke='#000' stroke-width='0.9' >H<tspan font-size='31.5' dy='8'>2</tspan><tspan dy='-8'>O</tspan></text>
<text x='1646.5' y='1987.8' font-size='46.5' font-family='Liberation Sans' textLength='37.9' lengthAdjust='spacingAndGlyphs' stroke='#000' stroke-width='0.9' >O<tspan font-size='31.5' dy='8'>2</tspan></text>
<text x='1709.3' y='2086.3' font-size='46.5' font-family='Liberation Sans' textLength='63.4' lengthAdjust='spacingAndGlyphs' stroke='#000' stroke-width='0.9' >H<tspan font-size='31.5' dy='8'>2</tspan><tspan dy='-8'>O</tspan></text>
<text x='1799.3' y='2054.5' font-size='46.5' font-family='Liberation Sans' textLength='62.5' lengthAdjust='spacingAndGlyphs' stroke='#000' stroke-width='0.9' >CO<tspan font-size='31.5' dy='8'>2</tspan></text>
<text x='1885.4' y='2054.5' font-size='46.5' font-family='Liberation Sans' textLength='62.5' lengthAdjust='spacingAndGlyphs' stroke='#000' stroke-width='0.9' >CH<tspan font-size='31.5' dy='8'>4</tspan></text>
<text x='1977.5' y='2178.4' font-size='46.5' font-family='Liberation Sans' textLength='64.5' lengthAdjust='spacingAndGlyphs' stroke='#000' stroke-width='0.9' >H<tspan font-size='31.5' dy='8'>2</tspan><tspan dy='-8'>O</tspan></text>
<clipPath id='pl1'><path d='M2097,21 A257,234 0 0 1 2097,489 Z'/></clipPath>
<g clip-path='url(#pl1)'><rect x='2097' y='21' width='259' height='468' fill='#f2c0a8'/><g filter='url(#blur12)' opacity='0.9'><ellipse cx='2172' cy='68' rx='22' ry='20' fill='#f0c070'/><ellipse cx='2125' cy='100' rx='25' ry='40' fill='#f1c590'/><ellipse cx='2197' cy='250' rx='18' ry='25' fill='#f2c785'/><ellipse cx='2130' cy='410' rx='28' ry='55' fill='#efc27a'/><ellipse cx='2150' cy='450' rx='30' ry='20' fill='#eebc70'/><ellipse cx='2110' cy='250' rx='15' ry='60' fill='#f3caa0'/></g><g filter='url(#blur12)' opacity='0.6'><ellipse cx='2200' cy='212' rx='30' ry='22' fill='#eeae98'/><ellipse cx='2272' cy='200' rx='20' ry='25' fill='#eeae98'/><ellipse cx='2240' cy='375' rx='30' ry='18' fill='#efb29c'/></g><filter id='t1a' filterUnits='userSpaceOnUse' x='2097' y='21' width='259' height='468'><feTurbulence type='fractalNoise' baseFrequency='0.02 0.05' numOctaves='4' seed='7' result='n'/><feColorMatrix in='n' type='matrix' values='0 0 0 0 1  0 0 0 0 1  0 0 0 0 1  4 0 0 0 -2.1'/></filter><filter id='t1b' filterUnits='userSpaceOnUse' x='2097' y='21' width='259' height='468'><feTurbulence type='fractalNoise' baseFrequency='0.025 0.06' numOctaves='4' seed='3' result='n'/><feColorMatrix in='n' type='matrix' values='0 0 0 0 1  0 0 0 0 1  0 0 0 0 1  5 0 0 0 -1.9'/></filter><mask id='m1' maskUnits='userSpaceOnUse' x='2000' y='0' width='368' height='2415'><g filter='url(#blur12)' opacity='1.0'><ellipse cx='2205' cy='150' rx='75' ry='28' fill='#fff'/><ellipse cx='2298' cy='175' rx='35' ry='28' fill='#fff'/><ellipse cx='2190' cy='288' rx='45' ry='42' fill='#fff'/><ellipse cx='2265' cy='290' rx='40' ry='75' fill='#fff'/><ellipse cx='2300' cy='355' rx='15' ry='35' fill='#fff'/><ellipse cx='2232' cy='407' rx='40' ry='22' fill='#fff'/><ellipse cx='2160' cy='185' rx='25' ry='20' fill='#fff'/><ellipse cx='2245' cy='240' rx='25' ry='25' fill='#fff'/></g></mask><g mask='url(#m1)'><rect x='2097' y='21' width='259' height='468' filter='url(#t1b)'/></g><rect x='2097' y='21' width='259' height='468' filter='url(#t1a)' opacity='0.6'/><radialGradient id='lg1' cx='0.5' cy='0.5' r='0.5'><stop offset='0.86' stop-color='#fff6ee' stop-opacity='0'/><stop offset='0.95' stop-color='#fdeee2' stop-opacity='0.55'/><stop offset='1' stop-color='#d9c2b0' stop-opacity='0.9'/></radialGradient><ellipse cx='2097' cy='255' rx='257' ry='234' fill='url(#lg1)'/><linearGradient id='lf21' x1='2097' y1='0' x2='2106' y2='0' gradientUnits='userSpaceOnUse'><stop offset='0' stop-color='#fff' stop-opacity='1'/><stop offset='1' stop-color='#fff' stop-opacity='0'/></linearGradient><rect x='2097' y='21' width='9' height='468' fill='url(#lf21)'/></g>
<path d='M2097,21 A257,234 0 0 1 2097,489' fill='none' stroke='#8a8a80' stroke-width='1.5'/>
<clipPath id='pl2'><path d='M2098,884 A251,248 0 0 1 2098,1380 Z'/></clipPath>
<g clip-path='url(#pl2)'><linearGradient id='p2base' x1='2100' y1='900' x2='2330' y2='1370' gradientUnits='userSpaceOnUse'><stop offset='0' stop-color='#c4cfd0'/><stop offset='0.45' stop-color='#86a0a8'/><stop offset='1' stop-color='#426c7c'/></linearGradient><rect x='2098' y='884' width='253' height='496' fill='url(#p2base)'/><g filter='url(#blur12)' opacity='0.85'><ellipse cx='2140' cy='1010' rx='45' ry='45' fill='#b0a186'/><ellipse cx='2200' cy='1070' rx='50' ry='40' fill='#ad9f86'/><ellipse cx='2150' cy='1110' rx='45' ry='35' fill='#a89a82'/><ellipse cx='2290' cy='1150' rx='20' ry='45' fill='#b3a68c'/><ellipse cx='2250' cy='1060' rx='25' ry='30' fill='#a99c84'/><ellipse cx='2230' cy='960' rx='30' ry='20' fill='#b8ab90'/></g><filter id='t2a' filterUnits='userSpaceOnUse' x='2098' y='884' width='253' height='496'><feTurbulence type='turbulence' baseFrequency='0.03 0.05' numOctaves='3' seed='5' result='n'/><feColorMatrix in='n' type='matrix' values='0 0 0 0 1  0 0 0 0 1  0 0 0 0 1  4 0 0 0 -2.0'/></filter><filter id='t2b' filterUnits='userSpaceOnUse' x='2098' y='884' width='253' height='496'><feTurbulence type='fractalNoise' baseFrequency='0.02 0.04' numOctaves='4' seed='9' result='n'/><feColorMatrix in='n' type='matrix' values='0 0 0 0 1  0 0 0 0 1  0 0 0 0 1  5 0 0 0 -2.2'/></filter><rect x='2098' y='884' width='253' height='496' filter='url(#t2a)' opacity='0.55'/><rect x='2098' y='884' width='253' height='496' filter='url(#t2b)' opacity='0.7'/><g filter='url(#blur12)' opacity='0.6'><ellipse cx='2150' cy='905' rx='90' ry='30' fill='#f2f6f7'/><ellipse cx='2130' cy='960' rx='40' ry='25' fill='#e8eef0'/><ellipse cx='2120' cy='1190' rx='30' ry='40' fill='#dfe7ea'/><ellipse cx='2150' cy='1270' rx='50' ry='25' fill='#c9d6da'/><ellipse cx='2230' cy='1130' rx='20' ry='60' fill='#d0dadc'/><ellipse cx='2200' cy='990' rx='25' ry='30' fill='#d8e0e0'/></g><g filter='url(#blur6)' opacity='0.8'><ellipse cx='2190' cy='940' rx='10' ry='8' fill='#6fb3dc'/><ellipse cx='2265' cy='985' rx='12' ry='12' fill='#78b0cc'/></g><radialGradient id='lg2' cx='0.5' cy='0.5' r='0.5'><stop offset='0.78' stop-color='#1b3442' stop-opacity='0'/><stop offset='0.93' stop-color='#1b3442' stop-opacity='0.45'/><stop offset='1' stop-color='#0f2430' stop-opacity='0.95'/></radialGradient><ellipse cx='2098' cy='1132' rx='251' ry='248' fill='url(#lg2)'/><linearGradient id='p2top' x1='0' y1='884' x2='0' y2='930' gradientUnits='userSpaceOnUse'><stop offset='0' stop-color='#fff' stop-opacity='0.9'/><stop offset='1' stop-color='#fff' stop-opacity='0'/></linearGradient><rect x='2098' y='884' width='260' height='50' fill='url(#p2top)'/><linearGradient id='lf884' x1='2098' y1='0' x2='2106' y2='0' gradientUnits='userSpaceOnUse'><stop offset='0' stop-color='#fff' stop-opacity='1'/><stop offset='1' stop-color='#fff' stop-opacity='0'/></linearGradient><rect x='2098' y='884' width='8' height='496' fill='url(#lf884)'/></g>
<clipPath id='pl3'><path d='M2097,1766 A266,244 0 0 1 2097,2254 Z'/></clipPath>
<g clip-path='url(#pl3)'><rect x='2097' y='1766' width='268' height='488' fill='#1f3659'/><filter id='t3a' filterUnits='userSpaceOnUse' x='2097' y='1766' width='268' height='488'><feTurbulence type='fractalNoise' baseFrequency='0.02 0.06' numOctaves='4' seed='11' result='n'/><feColorMatrix in='n' type='matrix' values='0 0 0 0 0.9  0 0 0 0 0.92  0 0 0 0 0.95  4.5 0 0 0 -2.45'/></filter><rect x='2097' y='1766' width='268' height='488' filter='url(#t3a)' opacity='0.8'/><g filter='url(#blur12)' opacity='0.9'><ellipse cx='2190' cy='1795' rx='130' ry='35' fill='#d9dee3'/><ellipse cx='2250' cy='1835' rx='80' ry='18' fill='#c4ccd5'/><ellipse cx='2140' cy='1835' rx='50' ry='22' fill='#cfd5db'/><ellipse cx='2285' cy='1960' rx='45' ry='38' fill='#e2e6e9'/><ellipse cx='2255' cy='1990' rx='28' ry='22' fill='#dde1e4'/><ellipse cx='2305' cy='1925' rx='25' ry='18' fill='#d4d9de'/><ellipse cx='2195' cy='2155' rx='45' ry='14' fill='#dfe3e5'/><ellipse cx='2108' cy='2160' rx='14' ry='85' fill='#cfd3d7'/><ellipse cx='2120' cy='2030' rx='12' ry='30' fill='#c8ccd0'/><ellipse cx='2180' cy='2242' rx='80' ry='14' fill='#b9bec4'/><ellipse cx='2300' cy='2150' rx='25' ry='12' fill='#9aa6b6'/></g><g filter='url(#blur3)'><path d='M2097.7,2006 C2098.7,1992 2096,1978.2 2105.4,1967.7 C2112.8,1959.4 2124.9,1962.8 2136,1963 C2153,1963.4 2166.2,1965.2 2182.7,1969.3 C2188.9,1970.9 2192.1,1975.9 2198,1978.5 C2206,1982 2213.4,1981.8 2221,1986 C2227.6,1989.7 2231.5,1994.5 2236.7,2000 C2240,2003.5 2240.9,2007.7 2244.4,2011 C2249.4,2015.7 2253.8,2019 2260,2021.8 C2265.1,2024.1 2270.1,2022.7 2275.3,2024.9 C2280.8,2027.2 2285.5,2029.3 2289.2,2034 C2292.1,2037.6 2292.6,2041.9 2292.3,2046.5 C2292,2051.8 2289.8,2055.6 2287.7,2060.4 C2285.4,2065.6 2282.1,2069 2280,2074.3 C2277.6,2080.2 2277.6,2085.4 2275.3,2091.3 C2273.1,2097.1 2271.7,2102.1 2267.6,2106.7 C2263.1,2111.8 2258,2114 2252.2,2117.5 C2246.8,2120.7 2241.7,2121.5 2236.7,2125.3 C2232,2128.9 2229.9,2133.2 2226,2137.6 C2222.6,2141.5 2220.5,2145 2216.6,2148.4 C2211.1,2153.2 2206.1,2156 2200,2160 C2195,2163.3 2190.5,2164.9 2185.8,2168.5 C2181.4,2171.9 2179.4,2176 2175,2179.3 C2169.8,2183.3 2164.5,2184.5 2159.5,2188.6 C2154.9,2192.4 2152.1,2196.2 2148.7,2201 C2145.4,2205.6 2143.8,2209.8 2141,2214.8 C2138.8,2218.7 2139.3,2225.6 2134.8,2225.6 C2130.3,2225.6 2129,2219.3 2128.6,2214.8 C2127.3,2200.9 2129,2189.9 2130,2176 C2130.6,2167.7 2132.3,2161.3 2133.2,2153 C2134.6,2139.1 2135.1,2128.3 2136.3,2114.4 C2136.8,2108.8 2139.4,2104.4 2137.9,2099 C2136.4,2093.6 2132.4,2090.7 2128.6,2086.6 C2125.1,2082.9 2121.3,2081.1 2117.8,2077.4 C2114,2073.3 2111.6,2069.6 2108.5,2065 C2104.9,2059.6 2100.5,2056 2099.3,2049.6 C2096.5,2034.2 2096.5,2021.7 2097.7,2006 Z' fill='#4a6c35'/><path d='M2108,2066 C2115.8,2067.2 2119.2,2074.6 2125,2080 C2132.5,2086.9 2138.3,2092.3 2145,2100 C2150.9,2106.8 2156.5,2111.7 2160,2120 C2164.3,2130.2 2163.5,2139.3 2166,2150 C2167.8,2158 2173.2,2163.9 2172,2172 C2170.8,2179.7 2164.6,2183.7 2160,2190 C2155.9,2195.6 2151.8,2199.2 2148,2205 C2143.8,2211.5 2144.8,2220.2 2138,2224 C2134.2,2226.1 2130.7,2219.3 2130,2215 C2127.7,2200.8 2129.2,2189.4 2130,2175 C2130.7,2162.3 2132.8,2152.6 2134,2140 C2135,2129.9 2137.2,2122 2136,2112 C2135,2103.6 2132.9,2096.9 2128,2090 C2123.8,2084.1 2116.6,2083.5 2112,2078 C2109.1,2074.5 2103.5,2065.3 2108,2066 Z' fill='#a48d6a'/><path d='M2318,1870 C2335,1895 2350,1940 2356,1995 L2342,1998 C2336,1955 2328,1915 2318,1870 Z' fill='#a88f66'/><path d='M2262,2030 C2280,2030 2290,2040 2288,2060 C2282,2075 2275,2090 2268,2100 C2265,2080 2262,2055 2262,2030 Z' fill='#8e8a5c'/></g><g filter='url(#blur6)' opacity='0.55'><ellipse cx='2140' cy='2045' rx='35' ry='45' fill='#dfe4e0'/><ellipse cx='2185' cy='2015' rx='20' ry='12' fill='#e2e6e2'/><ellipse cx='2250' cy='2045' rx='14' ry='22' fill='#d8ddd8'/><ellipse cx='2200' cy='2085' rx='8' ry='16' fill='#e0e4e0'/></g><g filter='url(#blur6)' opacity='0.85'><ellipse cx='2200' cy='2152' rx='48' ry='13' fill='#e4e7e9'/><ellipse cx='2106' cy='2165' rx='14' ry='85' fill='#d5d9dd'/><ellipse cx='2112' cy='2050' rx='10' ry='25' fill='#cfd4d8'/><ellipse cx='2175' cy='2228' rx='80' ry='20' fill='#c9ced3'/><ellipse cx='2240' cy='2205' rx='30' ry='12' fill='#b8bfc7'/></g><filter id='t3b' filterUnits='userSpaceOnUse' x='2097' y='1766' width='268' height='488'><feTurbulence type='fractalNoise' baseFrequency='0.05 0.07' numOctaves='4' seed='21' result='n'/><feColorMatrix in='n' type='matrix' values='0 0 0 0 0.9  0 0 0 0 0.92  0 0 0 0 0.92  5 0 0 0 -3.0'/></filter><mask id='m3' maskUnits='userSpaceOnUse' x='2000' y='0' width='368' height='2415'><path d='M2097.7,2006 C2098.7,1992 2096,1978.2 2105.4,1967.7 C2112.8,1959.4 2124.9,1962.8 2136,1963 C2153,1963.4 2166.2,1965.2 2182.7,1969.3 C2188.9,1970.9 2192.1,1975.9 2198,1978.5 C2206,1982 2213.4,1981.8 2221,1986 C2227.6,1989.7 2231.5,1994.5 2236.7,2000 C2240,2003.5 2240.9,2007.7 2244.4,2011 C2249.4,2015.7 2253.8,2019 2260,2021.8 C2265.1,2024.1 2270.1,2022.7 2275.3,2024.9 C2280.8,2027.2 2285.5,2029.3 2289.2,2034 C2292.1,2037.6 2292.6,2041.9 2292.3,2046.5 C2292,2051.8 2289.8,2055.6 2287.7,2060.4 C2285.4,2065.6 2282.1,2069 2280,2074.3 C2277.6,2080.2 2277.6,2085.4 2275.3,2091.3 C2273.1,2097.1 2271.7,2102.1 2267.6,2106.7 C2263.1,2111.8 2258,2114 2252.2,2117.5 C2246.8,2120.7 2241.7,2121.5 2236.7,2125.3 C2232,2128.9 2229.9,2133.2 2226,2137.6 C2222.6,2141.5 2220.5,2145 2216.6,2148.4 C2211.1,2153.2 2206.1,2156 2200,2160 C2195,2163.3 2190.5,2164.9 2185.8,2168.5 C2181.4,2171.9 2179.4,2176 2175,2179.3 C2169.8,2183.3 2164.5,2184.5 2159.5,2188.6 C2154.9,2192.4 2152.1,2196.2 2148.7,2201 C2145.4,2205.6 2143.8,2209.8 2141,2214.8 C2138.8,2218.7 2139.3,2225.6 2134.8,2225.6 C2130.3,2225.6 2129,2219.3 2128.6,2214.8 C2127.3,2200.9 2129,2189.9 2130,2176 C2130.6,2167.7 2132.3,2161.3 2133.2,2153 C2134.6,2139.1 2135.1,2128.3 2136.3,2114.4 C2136.8,2108.8 2139.4,2104.4 2137.9,2099 C2136.4,2093.6 2132.4,2090.7 2128.6,2086.6 C2125.1,2082.9 2121.3,2081.1 2117.8,2077.4 C2114,2073.3 2111.6,2069.6 2108.5,2065 C2104.9,2059.6 2100.5,2056 2099.3,2049.6 C2096.5,2034.2 2096.5,2021.7 2097.7,2006 Z' fill='#fff'/></mask><g mask='url(#m3)'><rect x='2097' y='1766' width='268' height='488' filter='url(#t3b)' opacity='0.35'/></g><radialGradient id='lg3' cx='0.5' cy='0.5' r='0.5'><stop offset='0.85' stop-color='#0c1626' stop-opacity='0'/><stop offset='0.95' stop-color='#0c1626' stop-opacity='0.35'/><stop offset='1' stop-color='#0c1626' stop-opacity='0.8'/></radialGradient><ellipse cx='2097' cy='2010' rx='266' ry='244' fill='url(#lg3)'/><linearGradient id='lf1766' x1='2097' y1='0' x2='2109' y2='0' gradientUnits='userSpaceOnUse'><stop offset='0' stop-color='#fff' stop-opacity='1'/><stop offset='1' stop-color='#fff' stop-opacity='0'/></linearGradient><rect x='2097' y='1766' width='12' height='488' fill='url(#lf1766)'/></g>
</svg></body></html>
